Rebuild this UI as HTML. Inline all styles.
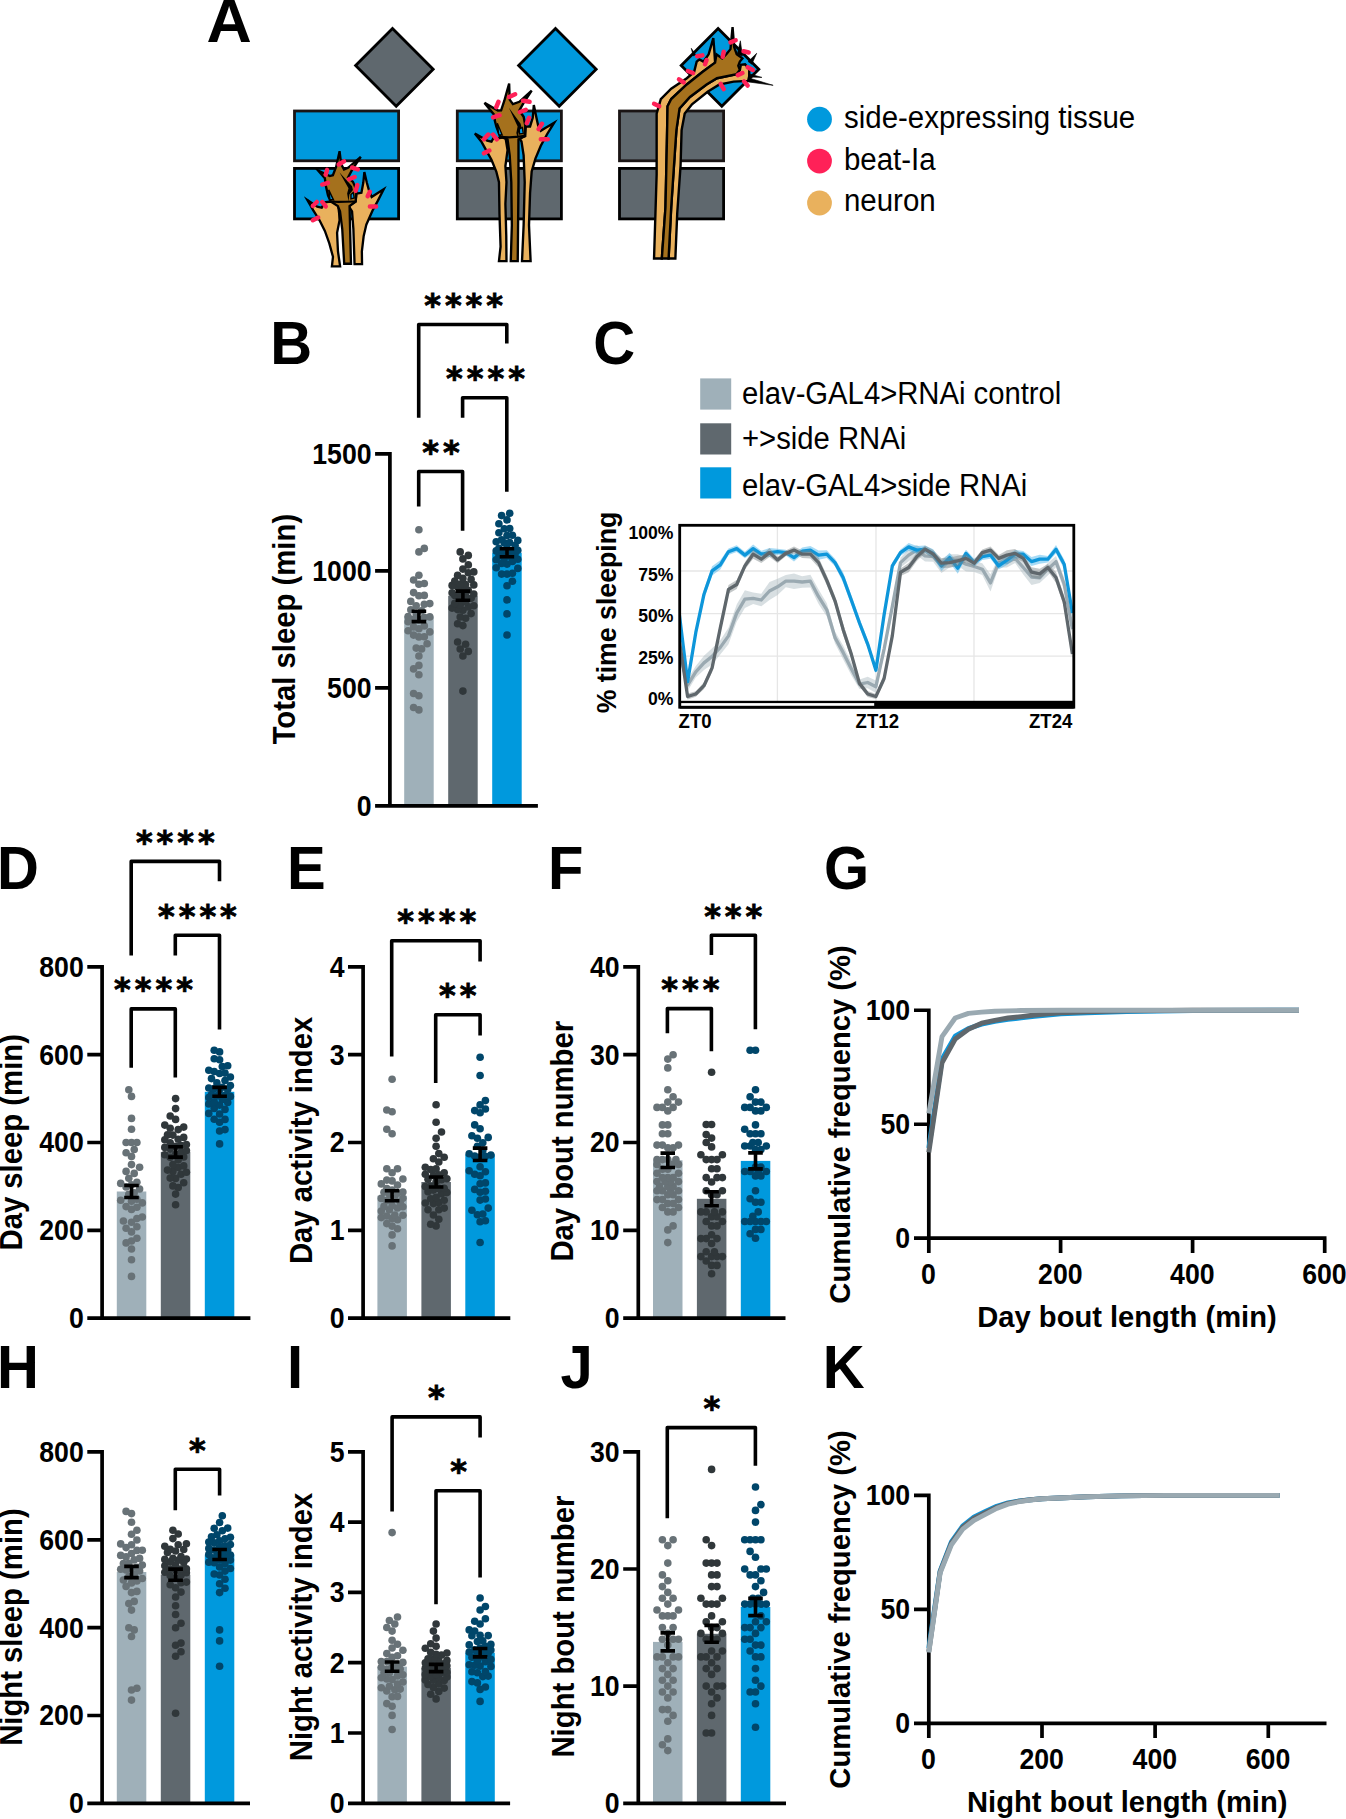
<!DOCTYPE html>
<html lang="en"><head><meta charset="utf-8"><title>Figure</title>
<style>html,body{margin:0;padding:0;background:#fff}svg{display:block}text{font-family:"Liberation Sans",sans-serif;fill:#000}.st{font-family:"DejaVu Sans","Liberation Sans",sans-serif;font-weight:bold;letter-spacing:3.96px;stroke:#000;stroke-width:0.8px}</style></head><body>
<svg width="1346" height="1819" viewBox="0 0 1346 1819">
<rect width="1346" height="1819" fill="#fff"/>
<text transform="translate(206.5,42.0) scale(1.08,1.04)" font-size="58" font-weight="bold" text-anchor="start" >A</text>
<text transform="translate(270.3,363.8) scale(1,1.04)" font-size="58" font-weight="bold" text-anchor="start" >B</text>
<text transform="translate(593.2,363.8) scale(1,1.04)" font-size="58" font-weight="bold" text-anchor="start" >C</text>
<text transform="translate(-3.0,889.1) scale(1,1.04)" font-size="58" font-weight="bold" text-anchor="start" >D</text>
<text transform="translate(287.1,889.1) scale(1,1.04)" font-size="58" font-weight="bold" text-anchor="start" >E</text>
<text transform="translate(548.0,889.1) scale(1,1.04)" font-size="58" font-weight="bold" text-anchor="start" >F</text>
<text transform="translate(824.1,889.1) scale(1,1.04)" font-size="58" font-weight="bold" text-anchor="start" >G</text>
<text transform="translate(-2.9,1387.9) scale(1,1.04)" font-size="58" font-weight="bold" text-anchor="start" >H</text>
<text transform="translate(287.0,1387.9) scale(1,1.04)" font-size="58" font-weight="bold" text-anchor="start" >I</text>
<text transform="translate(560.5,1387.9) scale(1,1.04)" font-size="58" font-weight="bold" text-anchor="start" >J</text>
<text transform="translate(822.7,1387.9) scale(1,1.04)" font-size="58" font-weight="bold" text-anchor="start" >K</text>
<rect x="294.5" y="111" width="104.1" height="49.8" fill="#0099DD" stroke="#1a1414" stroke-width="2.8"/>
<rect x="294.5" y="168.4" width="104.1" height="50.5" fill="#0099DD" stroke="#000" stroke-width="2.8"/>
<polygon points="355.6,65.6 392.5,28.6 433.2,69.2 396.2,106.2" fill="#5F686E" stroke="#000" stroke-width="2.8" stroke-linejoin="miter"/>
<rect x="457.3" y="111" width="104.1" height="49.8" fill="#0099DD" stroke="#1a1414" stroke-width="2.8"/>
<rect x="457.3" y="168.4" width="104.1" height="50.5" fill="#5F686E" stroke="#000" stroke-width="2.8"/>
<polygon points="518.6,65.6 555.5,28.6 596.2,69.2 559.2,106.2" fill="#0099DD" stroke="#000" stroke-width="2.8" stroke-linejoin="miter"/>
<rect x="619.5" y="111" width="104.1" height="49.8" fill="#5F686E" stroke="#1a1414" stroke-width="2.8"/>
<rect x="619.5" y="168.4" width="104.1" height="50.5" fill="#5F686E" stroke="#000" stroke-width="2.8"/>
<polygon points="681.2,65.6 718.1,28.6 758.8,69.2 721.8,106.2" fill="#0099DD" stroke="#000" stroke-width="2.8" stroke-linejoin="miter"/>
<g transform="translate(295,140) scale(0.08915)">
<polygon points="414,1418 426,1310 385,1160 335,1020 275,900 205,790 138,672 250,748 300,760 335,700 400,690 480,700 495,820 500,900 472,1040 482,1250 506,1418" fill="#E9B15D" stroke="#000" stroke-width="26" stroke-linejoin="miter" stroke-miterlimit="5"/>
<polygon points="668,1393 655,1000 640,800 600,740 680,690 690,600 745,592 766,480 778,360 806,480 828,560 860,640 920,600 995,553 930,680 870,790 800,950 770,1080 750,1250 752,1393" fill="#E9B15D" stroke="#000" stroke-width="26" stroke-linejoin="miter" stroke-miterlimit="5"/>
<polygon points="552,1388 530,1000 505,800 480,740 400,690 370,620 345,510 335,430 258,342 390,405 425,395 462,300 500,125 518,270 550,332 595,312 738,188 640,335 595,420 650,470 690,560 680,690 612,740 618,1000 628,1388" fill="#A5711D" stroke="#000" stroke-width="26" stroke-linejoin="miter" stroke-miterlimit="5"/>
<polygon points="500,365 640,520 650,560 610,610 600,690 585,600 600,540" fill="#000"/>
<polygon points="628,612 655,588 664,650 628,660" fill="#0099DD" stroke="#000" stroke-width="16"/>
<polygon points="378,560 432,672 392,668" fill="#0099DD" stroke="#000" stroke-width="16"/>
<path d="M400,690 C480,700 560,690 680,690" fill="none" stroke="#000" stroke-width="24"/>
<path d="M490,275L550,240M640,310L705,330M345,390L360,335M305,500L370,480M605,440L670,415M680,570L700,505M815,630L840,580M840,745L910,745M200,740L245,695M305,695L345,745M200,900L260,870" stroke="#FF2158" stroke-width="50" stroke-linecap="round" fill="none"/>
</g>
<g transform="translate(455,75) scale(0.10724)">
<polygon points="410,1735 425,1600 415,1300 410,1000 385,900 340,790 290,700 245,620 185,545 300,612 340,622 360,585 400,590 470,578 490,700 470,850 480,1000 470,1200 478,1500 480,1735" fill="#E9B15D" stroke="#000" stroke-width="22" stroke-linejoin="miter" stroke-miterlimit="5"/>
<polygon points="625,1735 640,1400 650,1000 640,750 620,620 600,590 655,570 660,480 700,480 725,400 735,280 760,400 775,470 800,520 850,490 925,445 860,550 800,660 750,780 715,900 700,1100 690,1400 705,1735" fill="#E9B15D" stroke="#000" stroke-width="22" stroke-linejoin="miter" stroke-miterlimit="5"/>
<polygon points="520,1735 530,1400 525,1000 510,750 490,600 420,575 385,480 370,420 365,370 275,260 400,332 430,330 460,240 485,150 505,80 510,230 540,272 600,250 715,145 640,260 600,330 640,390 655,470 650,570 592,600 592,1000 585,1735" fill="#A5711D" stroke="#000" stroke-width="22" stroke-linejoin="miter" stroke-miterlimit="5"/>
<polygon points="503,305 612,455 622,495 592,540 588,600 572,540 584,480" fill="#000"/>
<polygon points="600,505 628,490 636,545 602,550" fill="#0099DD" stroke="#000" stroke-width="12"/>
<polygon points="395,450 440,560 408,555" fill="#0099DD" stroke="#000" stroke-width="12"/>
<path d="M415,572 C480,588 560,582 652,568" fill="none" stroke="#000" stroke-width="20"/>
<path d="M505,205L560,180M635,240L695,250M385,300L405,250M355,395L415,375M605,345L660,325M670,450L690,400M780,505L810,455M800,598L865,598M270,600L310,555M355,555L390,600M270,730L320,705" stroke="#FF2158" stroke-width="42" stroke-linecap="round" fill="none"/>
</g>
<g transform="translate(640,20) scale(0.10401)">
<polygon points="1040,555 1280,628 1040,595" fill="#000" stroke="#000" stroke-width="6" stroke-linejoin="miter" stroke-miterlimit="5"/>
<polygon points="1060,520 1172,552 1060,548" fill="#000" stroke="#000" stroke-width="6" stroke-linejoin="miter" stroke-miterlimit="5"/>
<polygon points="1040,400 1122,320 1075,425" fill="#000" stroke="#000" stroke-width="6" stroke-linejoin="miter" stroke-miterlimit="5"/>
<polygon points="493,272 535,335 512,345" fill="#000" stroke="#000" stroke-width="6" stroke-linejoin="miter" stroke-miterlimit="5"/>
<polygon points="935,330 965,200 985,345" fill="#000" stroke="#000" stroke-width="6" stroke-linejoin="miter" stroke-miterlimit="5"/>
<polygon points="135,2293 160,1486 160,900 200,760 300,660 450,560 520,500 545,400 570,380 610,400 660,330 705,175 715,300 722,410 600,500 450,620 300,760 265,830 258,1200 245,1800 210,2293" fill="#E9B15D" stroke="#000" stroke-width="23" stroke-linejoin="miter" stroke-miterlimit="5"/>
<polygon points="275,2293 300,1800 340,1200 350,1058 380,850 480,740 640,620 740,560 930,520 960,480 970,430 1010,425 1050,470 1050,540 1040,585 900,592 760,622 650,690 500,810 430,900 400,1058 390,1400 358,1857 340,2293" fill="#E9B15D" stroke="#000" stroke-width="23" stroke-linejoin="miter" stroke-miterlimit="5"/>
<polygon points="210,2293 245,1800 258,1200 265,830 300,760 450,620 600,500 722,410 735,330 790,370 830,330 870,280 890,68 905,260 930,330 960,350 985,370 960,400 945,440 960,480 930,520 740,560 640,620 480,740 380,850 350,1058 340,1200 300,1800 275,2293" fill="#A5711D" stroke="#000" stroke-width="23" stroke-linejoin="miter" stroke-miterlimit="5"/>
<path d="M870,215L920,195M995,300L1045,312M795,355L805,305M550,348L600,340M625,425L640,385M460,490L510,510M375,570L420,600M1035,455L1085,480M940,530L985,510M775,615L805,665M1000,590L1035,630M135,805L185,830" stroke="#FF2158" stroke-width="43" stroke-linecap="round" fill="none"/>
</g>
<circle cx="819.5" cy="119.2" r="12.4" fill="#0099DD"/>
<text transform="translate(844.0,127.6) scale(1.0,1.04)" font-size="29.45" font-weight="normal" text-anchor="start" >side-expressing tissue</text>
<circle cx="819.5" cy="161.1" r="12.4" fill="#FF2158"/>
<text transform="translate(844.0,169.5) scale(1.0,1.04)" font-size="29.45" font-weight="normal" text-anchor="start" >beat-Ia</text>
<circle cx="819.5" cy="203" r="12.4" fill="#E9B15D"/>
<text transform="translate(844.0,211.4) scale(1.0,1.04)" font-size="29.45" font-weight="normal" text-anchor="start" >neuron</text>
<rect x="700.2" y="378.4" width="31" height="31.2" fill="#9FB0B9"/>
<text transform="translate(742.0,403.9) scale(1.0,1.04)" font-size="29.25" font-weight="normal" text-anchor="start" >elav-GAL4&gt;RNAi control</text>
<rect x="700.2" y="423.3" width="31" height="31.2" fill="#5F686E"/>
<text transform="translate(742.0,448.6) scale(1.0,1.04)" font-size="29.25" font-weight="normal" text-anchor="start" >+&gt;side RNAi</text>
<rect x="700.2" y="467.3" width="31" height="31.2" fill="#0099DD"/>
<text transform="translate(742.0,495.7) scale(1.0,1.04)" font-size="29.25" font-weight="normal" text-anchor="start" >elav-GAL4&gt;side RNAi</text>
<path d="M777.4,525.3V707.2M876.0,525.3V707.2M974.0,525.3V707.2M679.7,571.0H1073.8M679.7,613.6H1073.8M679.7,656.2H1073.8" stroke="#e6e6e6" stroke-width="1.3" fill="none"/>
<clipPath id="cc"><rect x="679.7" y="525.3" width="394.0999999999999" height="181.9000000000001"/></clipPath>
<g clip-path="url(#cc)" fill="none" stroke-linejoin="round">
<polygon points="679.4,643.4 687.6,678.9 695.8,666.1 704.0,655.8 712.1,648.2 720.3,640.3 728.5,627.7 736.7,604.6 744.9,590.3 753.1,592.6 761.3,593.7 769.5,581.9 777.6,578.8 785.8,575.1 794.0,573.4 802.2,576.2 810.4,574.7 818.6,589.5 826.8,603.2 835.0,631.6 843.1,645.5 851.3,662.2 859.5,679.5 867.7,676.8 875.9,680.5 884.1,643.6 892.3,599.7 900.5,557.7 908.7,548.9 916.8,545.0 925.0,550.4 933.2,551.7 941.4,558.8 949.6,554.2 957.8,554.3 966.0,557.1 974.2,561.1 982.3,563.3 990.5,574.2 998.7,557.3 1006.9,557.6 1015.1,553.9 1023.3,560.7 1031.5,569.2 1039.7,572.6 1047.8,562.9 1056.0,555.9 1064.2,577.7 1072.4,622.6 1072.4,635.7 1064.2,590.6 1056.0,567.2 1047.8,575.5 1039.7,583.1 1031.5,584.9 1023.3,574.4 1015.1,562.9 1006.9,567.5 998.7,567.8 990.5,591.5 982.3,575.1 974.2,572.0 966.0,571.4 957.8,565.8 949.6,567.6 941.4,573.0 933.2,561.7 925.0,561.4 916.8,555.2 908.7,561.2 900.5,567.4 892.3,613.2 884.1,654.5 875.9,692.9 867.7,688.2 859.5,688.9 851.3,675.2 843.1,659.3 835.0,643.6 826.8,616.4 818.6,603.9 810.4,587.6 802.2,587.8 794.0,589.0 785.8,587.3 777.6,594.9 769.5,600.1 761.3,606.3 753.1,604.1 744.9,608.0 736.7,621.7 728.5,644.2 720.3,654.5 712.1,664.6 704.0,669.9 695.8,677.6 687.6,691.1 679.4,658.1" fill="#A9B7BE" fill-opacity="0.45" stroke="none"/>
<path d="M679.4,650.7L687.6,685.0L695.8,671.9L704.0,662.9L712.1,656.4L720.3,647.4L728.5,635.9L736.7,613.1L744.9,599.2L753.1,598.3L761.3,600.0L769.5,591.0L777.6,586.8L785.8,581.2L794.0,581.2L802.2,582.0L810.4,581.2L818.6,596.7L826.8,609.8L835.0,637.6L843.1,652.4L851.3,668.7L859.5,684.2L867.7,682.5L875.9,686.7L884.1,649.1L892.3,606.5L900.5,562.6L908.7,555.1L916.8,550.1L925.0,555.9L933.2,556.7L941.4,565.9L949.6,560.9L957.8,560.1L966.0,564.2L974.2,566.5L982.3,569.2L990.5,582.9L998.7,562.6L1006.9,562.6L1015.1,558.4L1023.3,567.5L1031.5,577.0L1039.7,577.9L1047.8,569.2L1056.0,561.6L1064.2,584.2L1072.4,629.1" stroke="#9AA9B1" stroke-width="3.3"/>
<polygon points="679.4,610.2 687.6,678.2 695.8,628.0 704.0,589.3 712.1,566.2 720.3,560.3 728.5,548.4 736.7,545.2 744.9,551.8 753.1,544.4 761.3,550.8 769.5,548.0 777.6,548.8 785.8,549.7 794.0,553.7 802.2,547.6 810.4,545.9 818.6,550.4 826.8,550.3 835.0,558.8 843.1,572.3 851.3,594.9 859.5,618.3 867.7,639.5 875.9,667.1 884.1,608.9 892.3,562.5 900.5,549.4 908.7,543.1 916.8,546.1 925.0,545.4 933.2,549.3 941.4,560.9 949.6,552.7 957.8,562.8 966.0,549.8 974.2,558.7 982.3,553.5 990.5,551.3 998.7,562.3 1006.9,555.0 1015.1,549.9 1023.3,550.9 1031.5,557.0 1039.7,554.7 1047.8,556.0 1056.0,545.0 1064.2,559.4 1072.4,607.9 1072.4,618.4 1064.2,569.0 1056.0,553.5 1047.8,562.5 1039.7,563.7 1031.5,566.1 1023.3,557.6 1015.1,558.6 1006.9,565.1 998.7,569.5 990.5,558.8 982.3,560.0 974.2,566.5 966.0,557.0 957.8,573.7 949.6,562.5 941.4,570.9 933.2,557.5 925.0,553.1 916.8,554.0 908.7,550.7 900.5,555.8 892.3,569.2 884.1,620.7 875.9,673.3 867.7,648.6 859.5,627.6 851.3,605.1 843.1,582.8 835.0,566.3 826.8,558.1 818.6,559.7 810.4,554.2 802.2,554.8 794.0,561.4 785.8,555.4 777.6,554.7 769.5,557.1 761.3,557.7 753.1,552.8 744.9,558.3 736.7,552.0 728.5,555.0 720.3,569.5 712.1,575.5 704.0,599.0 695.8,636.9 687.6,685.2 679.4,619.4" fill="#3FB0E8" fill-opacity="0.45" stroke="none"/>
<path d="M679.4,614.8L687.6,681.7L695.8,632.4L704.0,594.2L712.1,570.9L720.3,564.9L728.5,551.7L736.7,548.6L744.9,555.1L753.1,548.6L761.3,554.2L769.5,552.6L777.6,551.7L785.8,552.6L794.0,557.6L802.2,551.2L810.4,550.1L818.6,555.1L826.8,554.2L835.0,562.6L843.1,577.5L851.3,600.0L859.5,623.0L867.7,644.1L875.9,670.2L884.1,614.8L892.3,565.9L900.5,552.6L908.7,546.9L916.8,550.1L925.0,549.2L933.2,553.4L941.4,565.9L949.6,557.6L957.8,568.2L966.0,553.4L974.2,562.6L982.3,556.7L990.5,555.1L998.7,565.9L1006.9,560.1L1015.1,554.2L1023.3,554.2L1031.5,561.6L1039.7,559.2L1047.8,559.2L1056.0,549.2L1064.2,564.2L1072.4,613.1" stroke="#0E96DA" stroke-width="3.3"/>
<polygon points="679.4,636.4 687.6,693.5 695.8,691.3 704.0,682.3 712.1,663.5 720.3,622.1 728.5,584.9 736.7,580.0 744.9,562.2 753.1,549.7 761.3,555.6 769.5,548.0 777.6,556.7 785.8,550.5 794.0,546.5 802.2,550.5 810.4,549.9 818.6,557.6 826.8,575.5 835.0,596.1 843.1,623.6 851.3,649.4 859.5,680.2 867.7,691.1 875.9,694.1 884.1,674.3 892.3,632.0 900.5,568.4 908.7,562.9 916.8,552.5 925.0,545.4 933.2,550.1 941.4,558.3 949.6,557.4 957.8,555.8 966.0,554.6 974.2,559.3 982.3,549.5 990.5,546.5 998.7,555.0 1006.9,550.3 1015.1,549.1 1023.3,554.9 1031.5,567.2 1039.7,568.8 1047.8,564.0 1056.0,572.1 1064.2,595.8 1072.4,649.4 1072.4,658.7 1064.2,607.5 1056.0,583.0 1047.8,571.1 1039.7,578.9 1031.5,577.2 1023.3,561.9 1015.1,557.7 1006.9,559.8 998.7,561.8 990.5,553.7 982.3,555.7 974.2,567.1 966.0,562.2 957.8,566.0 949.6,567.7 941.4,568.1 933.2,558.4 925.0,553.1 916.8,560.9 908.7,572.2 900.5,576.1 892.3,639.9 884.1,682.8 875.9,698.9 867.7,696.9 859.5,686.5 851.3,658.7 843.1,635.3 835.0,605.5 826.8,585.2 818.6,567.5 810.4,558.6 802.2,558.0 794.0,553.6 785.8,556.3 777.6,563.1 769.5,557.1 761.3,562.9 753.1,558.7 744.9,569.5 736.7,589.1 728.5,593.8 720.3,633.4 712.1,672.3 704.0,689.0 695.8,696.7 687.6,699.5 679.4,645.1" fill="#7A8286" fill-opacity="0.45" stroke="none"/>
<path d="M679.4,640.8L687.6,696.5L695.8,694.0L704.0,685.7L712.1,667.9L720.3,627.8L728.5,589.3L736.7,584.5L744.9,565.9L753.1,554.2L761.3,559.2L769.5,552.6L777.6,559.9L785.8,553.4L794.0,550.1L802.2,554.2L810.4,554.2L818.6,562.6L826.8,580.4L835.0,600.8L843.1,629.4L851.3,654.1L859.5,683.4L867.7,694.0L875.9,696.5L884.1,678.5L892.3,635.9L900.5,572.2L908.7,567.5L916.8,556.7L925.0,549.2L933.2,554.2L941.4,563.2L949.6,562.6L957.8,560.9L966.0,558.4L974.2,563.2L982.3,552.6L990.5,550.1L998.7,558.4L1006.9,555.1L1015.1,553.4L1023.3,558.4L1031.5,572.2L1039.7,573.9L1047.8,567.5L1056.0,577.5L1064.2,601.7L1072.4,654.1" stroke="#5F676C" stroke-width="3.3"/>
</g>
<rect x="679.7" y="700.8" width="394.1" height="7.8" fill="#000"/>
<rect x="681.1" y="703.1" width="193.1" height="3.1" fill="#fff"/>
<rect x="679.7" y="525.3" width="394.1" height="181.9" fill="none" stroke="#000" stroke-width="2.8"/>
<text transform="translate(673.5,705.3) scale(1.0,1.04)" font-size="17.6" font-weight="bold" text-anchor="end" >0%</text>
<text transform="translate(673.5,663.7) scale(1.0,1.04)" font-size="17.6" font-weight="bold" text-anchor="end" >25%</text>
<text transform="translate(673.5,622.1) scale(1.0,1.04)" font-size="17.6" font-weight="bold" text-anchor="end" >50%</text>
<text transform="translate(673.5,580.5) scale(1.0,1.04)" font-size="17.6" font-weight="bold" text-anchor="end" >75%</text>
<text transform="translate(673.5,538.9) scale(1.0,1.04)" font-size="17.6" font-weight="bold" text-anchor="end" >100%</text>
<text transform="translate(678.6,727.8) scale(1.0,1.04)" font-size="18.6" font-weight="bold" text-anchor="start" >ZT0</text>
<text transform="translate(877.3,727.8) scale(1.0,1.04)" font-size="18.6" font-weight="bold" text-anchor="middle" >ZT12</text>
<text transform="translate(1072.4,727.8) scale(1.0,1.04)" font-size="18.6" font-weight="bold" text-anchor="end" >ZT24</text>
<text transform="translate(615.6,612.5) rotate(-90) scale(1,1.04)" font-size="26.7" font-weight="bold" text-anchor="middle">% time sleeping</text>
<rect x="404.2" y="616.4" width="29.5" height="189.4" fill="#9FB0B9"/>
<rect x="448.2" y="595.7" width="29.5" height="210.1" fill="#5F686E"/>
<rect x="492.2" y="552.7" width="29.5" height="253.1" fill="#0099DD"/>
<g fill="#687277"><circle cx="418.9" cy="709.9" r="3.8"/><circle cx="413.6" cy="707.5" r="3.8"/><circle cx="418.9" cy="695.8" r="3.8"/><circle cx="413.6" cy="693.5" r="3.8"/><circle cx="418.9" cy="674.8" r="3.8"/><circle cx="413.6" cy="668.9" r="3.8"/><circle cx="418.9" cy="665.4" r="3.8"/><circle cx="418.9" cy="656.0" r="3.8"/><circle cx="421.6" cy="648.9" r="3.8"/><circle cx="416.2" cy="648.1" r="3.8"/><circle cx="427.1" cy="643.8" r="3.8"/><circle cx="418.9" cy="636.9" r="3.8"/><circle cx="424.3" cy="636.8" r="3.8"/><circle cx="413.6" cy="635.1" r="3.8"/><circle cx="429.8" cy="631.9" r="3.8"/><circle cx="408.1" cy="630.8" r="3.8"/><circle cx="418.9" cy="628.8" r="3.8"/><circle cx="413.6" cy="626.9" r="3.8"/><circle cx="424.3" cy="625.9" r="3.8"/><circle cx="408.1" cy="621.7" r="3.8"/><circle cx="418.9" cy="619.5" r="3.8"/><circle cx="413.6" cy="619.3" r="3.8"/><circle cx="424.3" cy="617.4" r="3.8"/><circle cx="429.8" cy="616.9" r="3.8"/><circle cx="408.1" cy="616.5" r="3.8"/><circle cx="416.2" cy="614.0" r="3.8"/><circle cx="421.6" cy="610.7" r="3.8"/><circle cx="410.8" cy="609.7" r="3.8"/><circle cx="416.2" cy="605.7" r="3.8"/><circle cx="424.3" cy="604.3" r="3.8"/><circle cx="429.8" cy="603.6" r="3.8"/><circle cx="410.8" cy="601.4" r="3.8"/><circle cx="418.9" cy="595.7" r="3.8"/><circle cx="424.3" cy="595.4" r="3.8"/><circle cx="413.6" cy="592.6" r="3.8"/><circle cx="418.9" cy="584.2" r="3.8"/><circle cx="424.3" cy="583.5" r="3.8"/><circle cx="413.6" cy="580.0" r="3.8"/><circle cx="418.9" cy="575.3" r="3.8"/><circle cx="418.9" cy="551.9" r="3.8"/><circle cx="424.3" cy="548.4" r="3.8"/><circle cx="418.9" cy="529.7" r="3.8"/></g>
<g fill="#30373A"><circle cx="462.9" cy="691.1" r="3.8"/><circle cx="462.9" cy="656.0" r="3.8"/><circle cx="468.3" cy="651.4" r="3.8"/><circle cx="460.2" cy="649.0" r="3.8"/><circle cx="465.6" cy="644.3" r="3.8"/><circle cx="457.6" cy="642.0" r="3.8"/><circle cx="462.9" cy="625.6" r="3.8"/><circle cx="457.6" cy="623.8" r="3.8"/><circle cx="465.6" cy="618.3" r="3.8"/><circle cx="460.2" cy="617.0" r="3.8"/><circle cx="471.1" cy="613.6" r="3.8"/><circle cx="462.9" cy="610.2" r="3.8"/><circle cx="457.6" cy="609.6" r="3.8"/><circle cx="452.1" cy="608.1" r="3.8"/><circle cx="468.3" cy="606.9" r="3.8"/><circle cx="473.8" cy="605.8" r="3.8"/><circle cx="460.2" cy="604.9" r="3.8"/><circle cx="454.8" cy="603.4" r="3.8"/><circle cx="465.6" cy="601.8" r="3.8"/><circle cx="471.1" cy="598.3" r="3.8"/><circle cx="460.2" cy="598.0" r="3.8"/><circle cx="454.8" cy="595.5" r="3.8"/><circle cx="465.6" cy="594.8" r="3.8"/><circle cx="473.8" cy="594.0" r="3.8"/><circle cx="460.2" cy="593.0" r="3.8"/><circle cx="452.1" cy="592.8" r="3.8"/><circle cx="468.3" cy="590.2" r="3.8"/><circle cx="462.9" cy="589.9" r="3.8"/><circle cx="457.6" cy="587.0" r="3.8"/><circle cx="452.1" cy="585.4" r="3.8"/><circle cx="473.8" cy="584.9" r="3.8"/><circle cx="465.6" cy="584.6" r="3.8"/><circle cx="460.2" cy="584.4" r="3.8"/><circle cx="454.8" cy="581.1" r="3.8"/><circle cx="471.1" cy="579.4" r="3.8"/><circle cx="462.9" cy="578.4" r="3.8"/><circle cx="457.6" cy="575.4" r="3.8"/><circle cx="468.3" cy="572.8" r="3.8"/><circle cx="473.8" cy="571.9" r="3.8"/><circle cx="462.9" cy="569.1" r="3.8"/><circle cx="468.3" cy="564.9" r="3.8"/><circle cx="462.9" cy="558.9" r="3.8"/><circle cx="468.3" cy="555.4" r="3.8"/><circle cx="460.2" cy="551.9" r="3.8"/></g>
<g fill="#00466A"><circle cx="507.0" cy="635.0" r="3.8"/><circle cx="507.0" cy="613.9" r="3.8"/><circle cx="507.0" cy="599.9" r="3.8"/><circle cx="507.0" cy="585.8" r="3.8"/><circle cx="512.4" cy="581.2" r="3.8"/><circle cx="507.0" cy="574.1" r="3.8"/><circle cx="501.6" cy="574.1" r="3.8"/><circle cx="512.4" cy="573.2" r="3.8"/><circle cx="517.8" cy="568.4" r="3.8"/><circle cx="496.2" cy="567.8" r="3.8"/><circle cx="507.0" cy="564.1" r="3.8"/><circle cx="501.6" cy="563.5" r="3.8"/><circle cx="512.4" cy="561.4" r="3.8"/><circle cx="496.2" cy="559.7" r="3.8"/><circle cx="517.8" cy="559.3" r="3.8"/><circle cx="504.3" cy="558.1" r="3.8"/><circle cx="509.7" cy="556.3" r="3.8"/><circle cx="498.9" cy="556.0" r="3.8"/><circle cx="515.1" cy="554.1" r="3.8"/><circle cx="507.0" cy="554.1" r="3.8"/><circle cx="501.6" cy="551.4" r="3.8"/><circle cx="496.2" cy="550.9" r="3.8"/><circle cx="512.4" cy="550.7" r="3.8"/><circle cx="517.8" cy="550.3" r="3.8"/><circle cx="507.0" cy="548.4" r="3.8"/><circle cx="498.9" cy="548.4" r="3.8"/><circle cx="515.1" cy="545.6" r="3.8"/><circle cx="504.3" cy="542.9" r="3.8"/><circle cx="509.7" cy="542.6" r="3.8"/><circle cx="496.2" cy="541.7" r="3.8"/><circle cx="517.8" cy="540.4" r="3.8"/><circle cx="501.6" cy="539.8" r="3.8"/><circle cx="507.0" cy="535.5" r="3.8"/><circle cx="512.4" cy="535.3" r="3.8"/><circle cx="498.9" cy="532.8" r="3.8"/><circle cx="504.3" cy="528.8" r="3.8"/><circle cx="509.7" cy="528.5" r="3.8"/><circle cx="498.9" cy="523.8" r="3.8"/><circle cx="507.0" cy="519.9" r="3.8"/><circle cx="501.6" cy="515.6" r="3.8"/><circle cx="509.7" cy="513.3" r="3.8"/></g>
<path d="M411.6,611.2H426.2M411.6,621.6H426.2M418.9,611.2V621.6" stroke="#000" stroke-width="3.6" fill="none"/>
<path d="M455.6,591.1H470.2M455.6,600.3H470.2M462.9,591.1V600.3" stroke="#000" stroke-width="3.6" fill="none"/>
<path d="M499.7,548.7H514.2M499.7,556.7H514.2M507.0,548.7V556.7" stroke="#000" stroke-width="3.6" fill="none"/>
<path d="M389.9,451.9V807.6M375.1,805.8H537.9M375.1,687.9H389.9M375.1,570.9H389.9M375.1,453.8H389.9" stroke="#000" stroke-width="3.7" fill="none"/>
<text transform="translate(371.6,815.7) scale(1.0,1.075)" font-size="26.7" font-weight="bold" text-anchor="end" >0</text>
<text transform="translate(371.6,697.8) scale(1.0,1.075)" font-size="26.7" font-weight="bold" text-anchor="end" >500</text>
<text transform="translate(371.6,580.8) scale(1.0,1.075)" font-size="26.7" font-weight="bold" text-anchor="end" >1000</text>
<text transform="translate(371.6,463.7) scale(1.0,1.075)" font-size="26.7" font-weight="bold" text-anchor="end" >1500</text>
<text transform="translate(294.9,629.1) rotate(-90) scale(1,1.04)" font-size="29.3" font-weight="bold" text-anchor="middle">Total sleep (min)</text>
<path d="M418.7,417.7 V324.5 H506.8 V343.6" fill="none" stroke="#000" stroke-width="3.6" stroke-linejoin="round"/>
<text x="465.6" y="316.0" font-size="32" class="st" text-anchor="middle">****</text>
<path d="M462.6,417.7 V397.8 H506.8 V491.7" fill="none" stroke="#000" stroke-width="3.6" stroke-linejoin="round"/>
<text x="487.5" y="389.3" font-size="32" class="st" text-anchor="middle">****</text>
<path d="M418.7,506.6 V471.5 H462.6 V530.8" fill="none" stroke="#000" stroke-width="3.6" stroke-linejoin="round"/>
<text x="443.0" y="463.0" font-size="32" class="st" text-anchor="middle">**</text>
<rect x="116.8" y="1191.5" width="29.5" height="126.6" fill="#9FB0B9"/>
<rect x="160.8" y="1151.9" width="29.5" height="166.2" fill="#5F686E"/>
<rect x="204.8" y="1091.8" width="29.5" height="226.3" fill="#0099DD"/>
<g fill="#687277"><circle cx="131.5" cy="1276.4" r="3.8"/><circle cx="131.5" cy="1259.7" r="3.8"/><circle cx="131.5" cy="1249.0" r="3.8"/><circle cx="126.1" cy="1242.9" r="3.8"/><circle cx="131.5" cy="1241.0" r="3.8"/><circle cx="136.9" cy="1238.2" r="3.8"/><circle cx="131.5" cy="1231.9" r="3.8"/><circle cx="126.1" cy="1228.2" r="3.8"/><circle cx="136.9" cy="1226.7" r="3.8"/><circle cx="131.5" cy="1222.2" r="3.8"/><circle cx="123.4" cy="1221.0" r="3.8"/><circle cx="136.9" cy="1218.6" r="3.8"/><circle cx="142.3" cy="1217.0" r="3.8"/><circle cx="131.5" cy="1209.4" r="3.8"/><circle cx="136.9" cy="1207.2" r="3.8"/><circle cx="126.1" cy="1206.6" r="3.8"/><circle cx="142.3" cy="1202.9" r="3.8"/><circle cx="131.5" cy="1201.2" r="3.8"/><circle cx="120.7" cy="1200.3" r="3.8"/><circle cx="136.9" cy="1199.2" r="3.8"/><circle cx="128.8" cy="1194.2" r="3.8"/><circle cx="134.2" cy="1192.8" r="3.8"/><circle cx="139.6" cy="1189.0" r="3.8"/><circle cx="126.1" cy="1186.9" r="3.8"/><circle cx="131.5" cy="1184.7" r="3.8"/><circle cx="120.7" cy="1183.4" r="3.8"/><circle cx="136.9" cy="1182.3" r="3.8"/><circle cx="128.8" cy="1178.2" r="3.8"/><circle cx="134.2" cy="1173.4" r="3.8"/><circle cx="126.1" cy="1171.4" r="3.8"/><circle cx="139.6" cy="1167.2" r="3.8"/><circle cx="131.5" cy="1164.6" r="3.8"/><circle cx="131.5" cy="1156.4" r="3.8"/><circle cx="126.1" cy="1152.7" r="3.8"/><circle cx="134.2" cy="1149.5" r="3.8"/><circle cx="131.5" cy="1142.5" r="3.8"/><circle cx="136.9" cy="1142.5" r="3.8"/><circle cx="126.1" cy="1142.5" r="3.8"/><circle cx="131.5" cy="1129.3" r="3.8"/><circle cx="131.5" cy="1118.4" r="3.8"/><circle cx="131.5" cy="1096.4" r="3.8"/><circle cx="128.8" cy="1089.8" r="3.8"/></g>
<g fill="#30373A"><circle cx="175.6" cy="1204.8" r="3.8"/><circle cx="175.6" cy="1194.1" r="3.8"/><circle cx="178.2" cy="1187.5" r="3.8"/><circle cx="172.9" cy="1185.9" r="3.8"/><circle cx="183.7" cy="1182.8" r="3.8"/><circle cx="175.6" cy="1178.4" r="3.8"/><circle cx="170.2" cy="1178.1" r="3.8"/><circle cx="181.0" cy="1174.2" r="3.8"/><circle cx="186.4" cy="1172.3" r="3.8"/><circle cx="172.9" cy="1171.5" r="3.8"/><circle cx="167.5" cy="1170.1" r="3.8"/><circle cx="178.2" cy="1167.4" r="3.8"/><circle cx="183.7" cy="1165.9" r="3.8"/><circle cx="172.9" cy="1164.6" r="3.8"/><circle cx="178.2" cy="1159.7" r="3.8"/><circle cx="170.2" cy="1157.3" r="3.8"/><circle cx="183.7" cy="1156.9" r="3.8"/><circle cx="164.8" cy="1154.7" r="3.8"/><circle cx="175.6" cy="1154.2" r="3.8"/><circle cx="181.0" cy="1152.1" r="3.8"/><circle cx="186.4" cy="1150.5" r="3.8"/><circle cx="170.2" cy="1149.1" r="3.8"/><circle cx="164.8" cy="1147.4" r="3.8"/><circle cx="175.6" cy="1146.4" r="3.8"/><circle cx="181.0" cy="1145.5" r="3.8"/><circle cx="186.4" cy="1144.6" r="3.8"/><circle cx="170.2" cy="1142.9" r="3.8"/><circle cx="164.8" cy="1139.8" r="3.8"/><circle cx="178.2" cy="1139.2" r="3.8"/><circle cx="183.7" cy="1137.4" r="3.8"/><circle cx="172.9" cy="1135.1" r="3.8"/><circle cx="167.5" cy="1134.9" r="3.8"/><circle cx="178.2" cy="1129.6" r="3.8"/><circle cx="170.2" cy="1128.2" r="3.8"/><circle cx="183.7" cy="1127.1" r="3.8"/><circle cx="164.8" cy="1125.1" r="3.8"/><circle cx="175.6" cy="1119.4" r="3.8"/><circle cx="170.2" cy="1116.0" r="3.8"/><circle cx="175.6" cy="1108.6" r="3.8"/><circle cx="175.6" cy="1098.6" r="3.8"/></g>
<g fill="#00466A"><circle cx="219.6" cy="1143.9" r="3.8"/><circle cx="219.6" cy="1131.0" r="3.8"/><circle cx="225.0" cy="1129.6" r="3.8"/><circle cx="219.6" cy="1122.2" r="3.8"/><circle cx="225.0" cy="1119.4" r="3.8"/><circle cx="214.2" cy="1119.3" r="3.8"/><circle cx="219.6" cy="1114.0" r="3.8"/><circle cx="208.8" cy="1113.4" r="3.8"/><circle cx="225.0" cy="1109.4" r="3.8"/><circle cx="214.2" cy="1108.4" r="3.8"/><circle cx="219.6" cy="1105.1" r="3.8"/><circle cx="208.8" cy="1104.0" r="3.8"/><circle cx="227.7" cy="1102.5" r="3.8"/><circle cx="214.2" cy="1101.8" r="3.8"/><circle cx="222.3" cy="1099.4" r="3.8"/><circle cx="208.8" cy="1097.6" r="3.8"/><circle cx="230.4" cy="1096.4" r="3.8"/><circle cx="216.9" cy="1095.9" r="3.8"/><circle cx="225.0" cy="1095.4" r="3.8"/><circle cx="211.5" cy="1094.5" r="3.8"/><circle cx="219.6" cy="1089.6" r="3.8"/><circle cx="227.7" cy="1089.4" r="3.8"/><circle cx="214.2" cy="1088.6" r="3.8"/><circle cx="208.8" cy="1088.0" r="3.8"/><circle cx="222.3" cy="1087.2" r="3.8"/><circle cx="230.4" cy="1085.6" r="3.8"/><circle cx="216.9" cy="1082.9" r="3.8"/><circle cx="225.0" cy="1080.5" r="3.8"/><circle cx="211.5" cy="1078.6" r="3.8"/><circle cx="230.4" cy="1077.0" r="3.8"/><circle cx="219.6" cy="1073.5" r="3.8"/><circle cx="225.0" cy="1073.1" r="3.8"/><circle cx="214.2" cy="1071.6" r="3.8"/><circle cx="208.8" cy="1070.3" r="3.8"/><circle cx="222.3" cy="1066.5" r="3.8"/><circle cx="227.7" cy="1065.7" r="3.8"/><circle cx="219.6" cy="1059.7" r="3.8"/><circle cx="214.2" cy="1058.8" r="3.8"/><circle cx="219.6" cy="1051.9" r="3.8"/><circle cx="214.2" cy="1050.3" r="3.8"/></g>
<path d="M124.2,1185.5H138.8M124.2,1197.5H138.8M131.5,1185.5V1197.5" stroke="#000" stroke-width="3.6" fill="none"/>
<path d="M168.2,1146.7H182.9M168.2,1157.1H182.9M175.6,1146.7V1157.1" stroke="#000" stroke-width="3.6" fill="none"/>
<path d="M212.3,1087.4H226.9M212.3,1096.2H226.9M219.6,1087.4V1096.2" stroke="#000" stroke-width="3.6" fill="none"/>
<path d="M102.1,965.0V1319.9M87.3,1318.1H250.4M87.3,1230.3H102.1M87.3,1142.5H102.1M87.3,1054.7H102.1M87.3,966.9H102.1" stroke="#000" stroke-width="3.7" fill="none"/>
<text transform="translate(83.8,1328.0) scale(1.0,1.075)" font-size="26.7" font-weight="bold" text-anchor="end" >0</text>
<text transform="translate(83.8,1240.2) scale(1.0,1.075)" font-size="26.7" font-weight="bold" text-anchor="end" >200</text>
<text transform="translate(83.8,1152.4) scale(1.0,1.075)" font-size="26.7" font-weight="bold" text-anchor="end" >400</text>
<text transform="translate(83.8,1064.6) scale(1.0,1.075)" font-size="26.7" font-weight="bold" text-anchor="end" >600</text>
<text transform="translate(83.8,976.8) scale(1.0,1.075)" font-size="26.7" font-weight="bold" text-anchor="end" >800</text>
<text transform="translate(21.7,1142.3) rotate(-90) scale(1,1.04)" font-size="29.3" font-weight="bold" text-anchor="middle">Day sleep (min)</text>
<path d="M131.2,955.4 V861.4 H219.5 V881.2" fill="none" stroke="#000" stroke-width="3.6" stroke-linejoin="round"/>
<text x="177.3" y="852.9" font-size="32" class="st" text-anchor="middle">****</text>
<path d="M175.3,955.4 V935.3 H219.5 V1029.6" fill="none" stroke="#000" stroke-width="3.6" stroke-linejoin="round"/>
<text x="199.4" y="926.8" font-size="32" class="st" text-anchor="middle">****</text>
<path d="M131.2,1067.7 V1008.9 H175.3 V1077.4" fill="none" stroke="#000" stroke-width="3.6" stroke-linejoin="round"/>
<text x="155.5" y="1000.4" font-size="32" class="st" text-anchor="middle">****</text>
<rect x="377.4" y="1195.7" width="29.5" height="122.4" fill="#9FB0B9"/>
<rect x="421.4" y="1182.0" width="29.5" height="136.1" fill="#5F686E"/>
<rect x="465.3" y="1154.3" width="29.5" height="163.8" fill="#0099DD"/>
<g fill="#687277"><circle cx="392.1" cy="1245.9" r="3.8"/><circle cx="392.1" cy="1234.9" r="3.8"/><circle cx="397.5" cy="1228.7" r="3.8"/><circle cx="392.1" cy="1226.1" r="3.8"/><circle cx="386.8" cy="1223.6" r="3.8"/><circle cx="397.5" cy="1219.7" r="3.8"/><circle cx="392.1" cy="1218.5" r="3.8"/><circle cx="381.3" cy="1217.6" r="3.8"/><circle cx="386.8" cy="1216.0" r="3.8"/><circle cx="402.9" cy="1215.2" r="3.8"/><circle cx="394.8" cy="1215.1" r="3.8"/><circle cx="381.3" cy="1211.1" r="3.8"/><circle cx="389.4" cy="1209.7" r="3.8"/><circle cx="397.5" cy="1208.0" r="3.8"/><circle cx="402.9" cy="1206.8" r="3.8"/><circle cx="384.0" cy="1206.4" r="3.8"/><circle cx="392.1" cy="1205.6" r="3.8"/><circle cx="400.2" cy="1202.3" r="3.8"/><circle cx="386.8" cy="1200.6" r="3.8"/><circle cx="394.8" cy="1198.5" r="3.8"/><circle cx="381.3" cy="1198.4" r="3.8"/><circle cx="402.9" cy="1198.2" r="3.8"/><circle cx="389.4" cy="1194.3" r="3.8"/><circle cx="397.5" cy="1193.2" r="3.8"/><circle cx="384.0" cy="1192.2" r="3.8"/><circle cx="402.9" cy="1192.1" r="3.8"/><circle cx="392.1" cy="1190.0" r="3.8"/><circle cx="386.8" cy="1188.6" r="3.8"/><circle cx="397.5" cy="1185.1" r="3.8"/><circle cx="381.3" cy="1183.9" r="3.8"/><circle cx="392.1" cy="1180.9" r="3.8"/><circle cx="386.8" cy="1180.1" r="3.8"/><circle cx="402.9" cy="1179.0" r="3.8"/><circle cx="392.1" cy="1172.7" r="3.8"/><circle cx="397.5" cy="1168.8" r="3.8"/><circle cx="386.8" cy="1168.8" r="3.8"/><circle cx="392.1" cy="1133.7" r="3.8"/><circle cx="386.8" cy="1129.3" r="3.8"/><circle cx="392.1" cy="1111.8" r="3.8"/><circle cx="386.8" cy="1110.0" r="3.8"/><circle cx="392.1" cy="1079.3" r="3.8"/></g>
<g fill="#30373A"><circle cx="436.1" cy="1225.9" r="3.8"/><circle cx="430.7" cy="1224.3" r="3.8"/><circle cx="438.8" cy="1219.2" r="3.8"/><circle cx="433.4" cy="1215.0" r="3.8"/><circle cx="438.8" cy="1209.8" r="3.8"/><circle cx="428.0" cy="1209.7" r="3.8"/><circle cx="444.2" cy="1208.1" r="3.8"/><circle cx="433.4" cy="1203.6" r="3.8"/><circle cx="425.3" cy="1203.0" r="3.8"/><circle cx="438.8" cy="1202.5" r="3.8"/><circle cx="444.2" cy="1200.3" r="3.8"/><circle cx="430.7" cy="1198.7" r="3.8"/><circle cx="436.1" cy="1197.4" r="3.8"/><circle cx="441.5" cy="1193.7" r="3.8"/><circle cx="446.9" cy="1192.6" r="3.8"/><circle cx="428.0" cy="1191.8" r="3.8"/><circle cx="433.4" cy="1190.1" r="3.8"/><circle cx="438.8" cy="1188.4" r="3.8"/><circle cx="444.2" cy="1188.3" r="3.8"/><circle cx="425.3" cy="1186.6" r="3.8"/><circle cx="430.7" cy="1186.4" r="3.8"/><circle cx="436.1" cy="1181.5" r="3.8"/><circle cx="441.5" cy="1179.7" r="3.8"/><circle cx="428.0" cy="1179.3" r="3.8"/><circle cx="446.9" cy="1178.8" r="3.8"/><circle cx="433.4" cy="1175.4" r="3.8"/><circle cx="438.8" cy="1174.7" r="3.8"/><circle cx="425.3" cy="1174.3" r="3.8"/><circle cx="444.2" cy="1172.7" r="3.8"/><circle cx="430.7" cy="1169.6" r="3.8"/><circle cx="436.1" cy="1168.7" r="3.8"/><circle cx="425.3" cy="1167.3" r="3.8"/><circle cx="438.8" cy="1162.0" r="3.8"/><circle cx="433.4" cy="1158.8" r="3.8"/><circle cx="444.2" cy="1157.2" r="3.8"/><circle cx="438.8" cy="1153.6" r="3.8"/><circle cx="436.1" cy="1146.3" r="3.8"/><circle cx="436.1" cy="1138.3" r="3.8"/><circle cx="441.5" cy="1132.0" r="3.8"/><circle cx="436.1" cy="1122.3" r="3.8"/><circle cx="436.1" cy="1104.7" r="3.8"/></g>
<g fill="#00466A"><circle cx="480.1" cy="1242.5" r="3.8"/><circle cx="480.1" cy="1221.8" r="3.8"/><circle cx="485.4" cy="1220.7" r="3.8"/><circle cx="477.4" cy="1214.7" r="3.8"/><circle cx="482.8" cy="1214.0" r="3.8"/><circle cx="471.9" cy="1210.3" r="3.8"/><circle cx="488.2" cy="1208.1" r="3.8"/><circle cx="480.1" cy="1200.1" r="3.8"/><circle cx="485.4" cy="1199.0" r="3.8"/><circle cx="480.1" cy="1192.2" r="3.8"/><circle cx="485.4" cy="1191.3" r="3.8"/><circle cx="474.7" cy="1189.4" r="3.8"/><circle cx="480.1" cy="1183.7" r="3.8"/><circle cx="485.4" cy="1182.9" r="3.8"/><circle cx="480.1" cy="1175.7" r="3.8"/><circle cx="474.7" cy="1174.2" r="3.8"/><circle cx="485.4" cy="1171.7" r="3.8"/><circle cx="469.2" cy="1170.8" r="3.8"/><circle cx="480.1" cy="1166.7" r="3.8"/><circle cx="480.1" cy="1157.0" r="3.8"/><circle cx="485.4" cy="1156.2" r="3.8"/><circle cx="474.7" cy="1156.0" r="3.8"/><circle cx="490.9" cy="1155.1" r="3.8"/><circle cx="469.2" cy="1153.7" r="3.8"/><circle cx="482.8" cy="1150.3" r="3.8"/><circle cx="477.4" cy="1146.3" r="3.8"/><circle cx="482.8" cy="1142.8" r="3.8"/><circle cx="477.4" cy="1138.2" r="3.8"/><circle cx="488.2" cy="1137.4" r="3.8"/><circle cx="471.9" cy="1135.8" r="3.8"/><circle cx="480.1" cy="1128.7" r="3.8"/><circle cx="474.7" cy="1124.9" r="3.8"/><circle cx="480.1" cy="1112.8" r="3.8"/><circle cx="474.7" cy="1110.6" r="3.8"/><circle cx="485.4" cy="1109.0" r="3.8"/><circle cx="480.1" cy="1104.9" r="3.8"/><circle cx="485.4" cy="1100.6" r="3.8"/><circle cx="480.1" cy="1075.5" r="3.8"/><circle cx="480.1" cy="1057.2" r="3.8"/></g>
<path d="M384.8,1190.7H399.4M384.8,1200.7H399.4M392.1,1190.7V1200.7" stroke="#000" stroke-width="3.6" fill="none"/>
<path d="M428.8,1177.0H443.4M428.8,1187.0H443.4M436.1,1177.0V1187.0" stroke="#000" stroke-width="3.6" fill="none"/>
<path d="M472.8,1148.1H487.4M472.8,1160.5H487.4M480.1,1148.1V1160.5" stroke="#000" stroke-width="3.6" fill="none"/>
<path d="M363.1,965.0V1319.9M348.0,1318.1H510.3M348.0,1230.3H363.1M348.0,1142.5H363.1M348.0,1054.7H363.1M348.0,966.9H363.1" stroke="#000" stroke-width="3.7" fill="none"/>
<text transform="translate(344.5,1328.0) scale(1.0,1.075)" font-size="26.7" font-weight="bold" text-anchor="end" >0</text>
<text transform="translate(344.5,1240.2) scale(1.0,1.075)" font-size="26.7" font-weight="bold" text-anchor="end" >1</text>
<text transform="translate(344.5,1152.4) scale(1.0,1.075)" font-size="26.7" font-weight="bold" text-anchor="end" >2</text>
<text transform="translate(344.5,1064.6) scale(1.0,1.075)" font-size="26.7" font-weight="bold" text-anchor="end" >3</text>
<text transform="translate(344.5,976.8) scale(1.0,1.075)" font-size="26.7" font-weight="bold" text-anchor="end" >4</text>
<text transform="translate(311.8,1140.4) rotate(-90) scale(1,1.04)" font-size="29.3" font-weight="bold" text-anchor="middle">Day activity index</text>
<path d="M391.7,1056.6 V940.8 H480.1 V961.6" fill="none" stroke="#000" stroke-width="3.6" stroke-linejoin="round"/>
<text x="438.7" y="932.3" font-size="32" class="st" text-anchor="middle">****</text>
<path d="M435.7,1083.0 V1014.7 H480.1 V1035.5" fill="none" stroke="#000" stroke-width="3.6" stroke-linejoin="round"/>
<text x="459.8" y="1006.2" font-size="32" class="st" text-anchor="middle">**</text>
<rect x="653.0" y="1160.3" width="29.5" height="157.8" fill="#9FB0B9"/>
<rect x="696.9" y="1198.8" width="29.5" height="119.3" fill="#5F686E"/>
<rect x="740.8" y="1160.9" width="29.5" height="157.2" fill="#0099DD"/>
<g fill="#687277"><circle cx="667.8" cy="1242.6" r="3.8"/><circle cx="667.8" cy="1229.9" r="3.8"/><circle cx="673.1" cy="1225.9" r="3.8"/><circle cx="667.8" cy="1211.9" r="3.8"/><circle cx="673.1" cy="1211.9" r="3.8"/><circle cx="662.4" cy="1207.5" r="3.8"/><circle cx="678.5" cy="1207.5" r="3.8"/><circle cx="667.8" cy="1203.6" r="3.8"/><circle cx="673.1" cy="1203.6" r="3.8"/><circle cx="662.4" cy="1199.6" r="3.8"/><circle cx="678.5" cy="1199.6" r="3.8"/><circle cx="657.0" cy="1199.6" r="3.8"/><circle cx="667.8" cy="1194.7" r="3.8"/><circle cx="673.1" cy="1194.7" r="3.8"/><circle cx="662.4" cy="1190.8" r="3.8"/><circle cx="657.0" cy="1190.8" r="3.8"/><circle cx="678.5" cy="1190.8" r="3.8"/><circle cx="670.5" cy="1190.8" r="3.8"/><circle cx="667.8" cy="1186.4" r="3.8"/><circle cx="673.1" cy="1186.4" r="3.8"/><circle cx="659.6" cy="1186.4" r="3.8"/><circle cx="678.5" cy="1181.6" r="3.8"/><circle cx="670.5" cy="1181.6" r="3.8"/><circle cx="665.0" cy="1181.6" r="3.8"/><circle cx="657.0" cy="1181.6" r="3.8"/><circle cx="667.8" cy="1177.6" r="3.8"/><circle cx="673.1" cy="1177.6" r="3.8"/><circle cx="662.4" cy="1177.6" r="3.8"/><circle cx="678.5" cy="1173.2" r="3.8"/><circle cx="657.0" cy="1173.2" r="3.8"/><circle cx="667.8" cy="1169.3" r="3.8"/><circle cx="662.4" cy="1169.3" r="3.8"/><circle cx="673.1" cy="1164.4" r="3.8"/><circle cx="657.0" cy="1164.4" r="3.8"/><circle cx="678.5" cy="1164.4" r="3.8"/><circle cx="667.8" cy="1159.6" r="3.8"/><circle cx="662.4" cy="1159.6" r="3.8"/><circle cx="675.9" cy="1159.6" r="3.8"/><circle cx="657.0" cy="1159.6" r="3.8"/><circle cx="667.8" cy="1147.8" r="3.8"/><circle cx="673.1" cy="1147.8" r="3.8"/><circle cx="662.4" cy="1145.1" r="3.8"/><circle cx="678.5" cy="1145.1" r="3.8"/><circle cx="657.0" cy="1145.1" r="3.8"/><circle cx="667.8" cy="1133.7" r="3.8"/><circle cx="662.4" cy="1133.7" r="3.8"/><circle cx="667.8" cy="1124.9" r="3.8"/><circle cx="662.4" cy="1124.9" r="3.8"/><circle cx="667.8" cy="1110.9" r="3.8"/><circle cx="662.4" cy="1107.4" r="3.8"/><circle cx="673.1" cy="1107.4" r="3.8"/><circle cx="657.0" cy="1107.4" r="3.8"/><circle cx="667.8" cy="1102.1" r="3.8"/><circle cx="678.5" cy="1102.1" r="3.8"/><circle cx="673.1" cy="1096.8" r="3.8"/><circle cx="667.8" cy="1089.8" r="3.8"/><circle cx="667.8" cy="1067.9" r="3.8"/><circle cx="667.8" cy="1059.1" r="3.8"/><circle cx="673.1" cy="1054.7" r="3.8"/></g>
<g fill="#30373A"><circle cx="711.6" cy="1273.8" r="3.8"/><circle cx="711.6" cy="1265.4" r="3.8"/><circle cx="717.0" cy="1265.4" r="3.8"/><circle cx="706.2" cy="1261.0" r="3.8"/><circle cx="711.6" cy="1256.6" r="3.8"/><circle cx="717.0" cy="1256.6" r="3.8"/><circle cx="722.4" cy="1256.6" r="3.8"/><circle cx="700.9" cy="1256.6" r="3.8"/><circle cx="706.2" cy="1251.8" r="3.8"/><circle cx="714.4" cy="1251.8" r="3.8"/><circle cx="711.6" cy="1243.5" r="3.8"/><circle cx="706.2" cy="1238.6" r="3.8"/><circle cx="717.0" cy="1238.6" r="3.8"/><circle cx="700.9" cy="1238.6" r="3.8"/><circle cx="711.6" cy="1234.7" r="3.8"/><circle cx="711.6" cy="1225.9" r="3.8"/><circle cx="717.0" cy="1225.9" r="3.8"/><circle cx="706.2" cy="1221.5" r="3.8"/><circle cx="722.4" cy="1221.5" r="3.8"/><circle cx="711.6" cy="1216.7" r="3.8"/><circle cx="717.0" cy="1216.7" r="3.8"/><circle cx="706.2" cy="1211.9" r="3.8"/><circle cx="722.4" cy="1211.9" r="3.8"/><circle cx="700.9" cy="1211.9" r="3.8"/><circle cx="714.4" cy="1211.9" r="3.8"/><circle cx="711.6" cy="1194.7" r="3.8"/><circle cx="717.0" cy="1194.7" r="3.8"/><circle cx="706.2" cy="1190.8" r="3.8"/><circle cx="722.4" cy="1190.8" r="3.8"/><circle cx="711.6" cy="1182.0" r="3.8"/><circle cx="717.0" cy="1177.6" r="3.8"/><circle cx="706.2" cy="1177.6" r="3.8"/><circle cx="722.4" cy="1177.6" r="3.8"/><circle cx="711.6" cy="1168.8" r="3.8"/><circle cx="717.0" cy="1168.8" r="3.8"/><circle cx="711.6" cy="1159.6" r="3.8"/><circle cx="717.0" cy="1159.6" r="3.8"/><circle cx="706.2" cy="1159.6" r="3.8"/><circle cx="722.4" cy="1154.8" r="3.8"/><circle cx="700.9" cy="1154.8" r="3.8"/><circle cx="711.6" cy="1146.9" r="3.8"/><circle cx="706.2" cy="1142.5" r="3.8"/><circle cx="711.6" cy="1138.1" r="3.8"/><circle cx="706.2" cy="1134.6" r="3.8"/><circle cx="711.6" cy="1124.5" r="3.8"/><circle cx="706.2" cy="1124.5" r="3.8"/><circle cx="711.6" cy="1072.3" r="3.8"/></g>
<g fill="#00466A"><circle cx="755.5" cy="1238.2" r="3.8"/><circle cx="750.1" cy="1233.8" r="3.8"/><circle cx="755.5" cy="1229.4" r="3.8"/><circle cx="760.9" cy="1229.4" r="3.8"/><circle cx="755.5" cy="1221.5" r="3.8"/><circle cx="750.1" cy="1221.5" r="3.8"/><circle cx="760.9" cy="1221.5" r="3.8"/><circle cx="744.7" cy="1221.5" r="3.8"/><circle cx="766.3" cy="1221.5" r="3.8"/><circle cx="752.8" cy="1216.3" r="3.8"/><circle cx="758.2" cy="1211.9" r="3.8"/><circle cx="755.5" cy="1202.2" r="3.8"/><circle cx="760.9" cy="1202.2" r="3.8"/><circle cx="750.1" cy="1198.7" r="3.8"/><circle cx="755.5" cy="1190.8" r="3.8"/><circle cx="755.5" cy="1175.9" r="3.8"/><circle cx="760.9" cy="1175.9" r="3.8"/><circle cx="750.1" cy="1171.5" r="3.8"/><circle cx="766.3" cy="1171.5" r="3.8"/><circle cx="744.7" cy="1171.5" r="3.8"/><circle cx="758.2" cy="1171.5" r="3.8"/><circle cx="755.5" cy="1167.1" r="3.8"/><circle cx="760.9" cy="1167.1" r="3.8"/><circle cx="755.5" cy="1149.5" r="3.8"/><circle cx="760.9" cy="1149.5" r="3.8"/><circle cx="750.1" cy="1146.0" r="3.8"/><circle cx="766.3" cy="1146.0" r="3.8"/><circle cx="744.7" cy="1146.0" r="3.8"/><circle cx="758.2" cy="1142.5" r="3.8"/><circle cx="752.8" cy="1142.5" r="3.8"/><circle cx="755.5" cy="1133.7" r="3.8"/><circle cx="750.1" cy="1133.7" r="3.8"/><circle cx="760.9" cy="1133.7" r="3.8"/><circle cx="744.7" cy="1129.3" r="3.8"/><circle cx="755.5" cy="1124.9" r="3.8"/><circle cx="755.5" cy="1110.9" r="3.8"/><circle cx="760.9" cy="1110.9" r="3.8"/><circle cx="750.1" cy="1107.4" r="3.8"/><circle cx="766.3" cy="1107.4" r="3.8"/><circle cx="744.7" cy="1107.4" r="3.8"/><circle cx="755.5" cy="1102.1" r="3.8"/><circle cx="760.9" cy="1102.1" r="3.8"/><circle cx="750.1" cy="1096.8" r="3.8"/><circle cx="755.5" cy="1089.8" r="3.8"/><circle cx="755.5" cy="1050.3" r="3.8"/><circle cx="750.1" cy="1050.3" r="3.8"/></g>
<path d="M660.5,1153.1H675.0M660.5,1167.5H675.0M667.8,1153.1V1167.5" stroke="#000" stroke-width="3.6" fill="none"/>
<path d="M704.4,1191.8H718.9M704.4,1205.8H718.9M711.6,1191.8V1205.8" stroke="#000" stroke-width="3.6" fill="none"/>
<path d="M748.2,1152.9H762.8M748.2,1168.9H762.8M755.5,1152.9V1168.9" stroke="#000" stroke-width="3.6" fill="none"/>
<path d="M638.3,965.0V1319.9M623.2,1318.1H785.5M623.2,1230.3H638.3M623.2,1142.5H638.3M623.2,1054.7H638.3M623.2,966.9H638.3" stroke="#000" stroke-width="3.7" fill="none"/>
<text transform="translate(619.7,1328.0) scale(1.0,1.075)" font-size="26.7" font-weight="bold" text-anchor="end" >0</text>
<text transform="translate(619.7,1240.2) scale(1.0,1.075)" font-size="26.7" font-weight="bold" text-anchor="end" >10</text>
<text transform="translate(619.7,1152.4) scale(1.0,1.075)" font-size="26.7" font-weight="bold" text-anchor="end" >20</text>
<text transform="translate(619.7,1064.6) scale(1.0,1.075)" font-size="26.7" font-weight="bold" text-anchor="end" >30</text>
<text transform="translate(619.7,976.8) scale(1.0,1.075)" font-size="26.7" font-weight="bold" text-anchor="end" >40</text>
<text transform="translate(573.0,1141.2) rotate(-90) scale(1,1.04)" font-size="29.3" font-weight="bold" text-anchor="middle">Day bout number</text>
<path d="M711.4,954.9 V935.2 H755.4 V1029.2" fill="none" stroke="#000" stroke-width="3.6" stroke-linejoin="round"/>
<text x="735.2" y="926.7" font-size="32" class="st" text-anchor="middle">***</text>
<path d="M667.4,1033.3 V1008.6 H711.4 V1051.2" fill="none" stroke="#000" stroke-width="3.6" stroke-linejoin="round"/>
<text x="692.3" y="1000.1" font-size="32" class="st" text-anchor="middle">***</text>
<rect x="116.8" y="1572.0" width="29.5" height="231.3" fill="#9FB0B9"/>
<rect x="160.8" y="1574.7" width="29.5" height="228.6" fill="#5F686E"/>
<rect x="204.8" y="1554.5" width="29.5" height="248.8" fill="#0099DD"/>
<g fill="#687277"><circle cx="131.5" cy="1700.1" r="3.8"/><circle cx="131.5" cy="1690.0" r="3.8"/><circle cx="136.9" cy="1688.3" r="3.8"/><circle cx="131.5" cy="1636.5" r="3.8"/><circle cx="134.2" cy="1629.9" r="3.8"/><circle cx="128.8" cy="1627.7" r="3.8"/><circle cx="131.5" cy="1610.1" r="3.8"/><circle cx="128.8" cy="1603.6" r="3.8"/><circle cx="134.2" cy="1601.4" r="3.8"/><circle cx="131.5" cy="1592.6" r="3.8"/><circle cx="136.9" cy="1591.4" r="3.8"/><circle cx="126.1" cy="1586.4" r="3.8"/><circle cx="131.5" cy="1582.9" r="3.8"/><circle cx="136.9" cy="1581.0" r="3.8"/><circle cx="123.4" cy="1580.0" r="3.8"/><circle cx="142.3" cy="1578.5" r="3.8"/><circle cx="128.8" cy="1576.5" r="3.8"/><circle cx="134.2" cy="1574.6" r="3.8"/><circle cx="139.6" cy="1571.0" r="3.8"/><circle cx="126.1" cy="1569.9" r="3.8"/><circle cx="120.7" cy="1569.2" r="3.8"/><circle cx="131.5" cy="1568.6" r="3.8"/><circle cx="136.9" cy="1567.4" r="3.8"/><circle cx="142.3" cy="1565.1" r="3.8"/><circle cx="123.4" cy="1563.6" r="3.8"/><circle cx="128.8" cy="1563.4" r="3.8"/><circle cx="134.2" cy="1559.9" r="3.8"/><circle cx="139.6" cy="1558.4" r="3.8"/><circle cx="126.1" cy="1556.9" r="3.8"/><circle cx="120.7" cy="1555.4" r="3.8"/><circle cx="131.5" cy="1553.5" r="3.8"/><circle cx="136.9" cy="1550.4" r="3.8"/><circle cx="142.3" cy="1550.2" r="3.8"/><circle cx="126.1" cy="1547.6" r="3.8"/><circle cx="131.5" cy="1544.8" r="3.8"/><circle cx="120.7" cy="1543.9" r="3.8"/><circle cx="136.9" cy="1540.0" r="3.8"/><circle cx="131.5" cy="1534.2" r="3.8"/><circle cx="136.9" cy="1530.2" r="3.8"/><circle cx="131.5" cy="1522.3" r="3.8"/><circle cx="131.5" cy="1513.6" r="3.8"/><circle cx="126.1" cy="1511.4" r="3.8"/></g>
<g fill="#30373A"><circle cx="175.6" cy="1713.3" r="3.8"/><circle cx="175.6" cy="1656.2" r="3.8"/><circle cx="181.0" cy="1651.8" r="3.8"/><circle cx="175.6" cy="1645.3" r="3.8"/><circle cx="181.0" cy="1643.1" r="3.8"/><circle cx="175.6" cy="1627.7" r="3.8"/><circle cx="181.0" cy="1623.3" r="3.8"/><circle cx="175.6" cy="1614.5" r="3.8"/><circle cx="175.6" cy="1605.8" r="3.8"/><circle cx="175.6" cy="1597.0" r="3.8"/><circle cx="181.0" cy="1592.1" r="3.8"/><circle cx="175.6" cy="1587.8" r="3.8"/><circle cx="170.2" cy="1584.7" r="3.8"/><circle cx="181.0" cy="1582.7" r="3.8"/><circle cx="186.4" cy="1582.1" r="3.8"/><circle cx="175.6" cy="1578.3" r="3.8"/><circle cx="170.2" cy="1575.6" r="3.8"/><circle cx="181.0" cy="1575.2" r="3.8"/><circle cx="186.4" cy="1572.7" r="3.8"/><circle cx="164.8" cy="1572.3" r="3.8"/><circle cx="175.6" cy="1570.5" r="3.8"/><circle cx="170.2" cy="1569.1" r="3.8"/><circle cx="181.0" cy="1569.0" r="3.8"/><circle cx="186.4" cy="1568.9" r="3.8"/><circle cx="164.8" cy="1565.8" r="3.8"/><circle cx="175.6" cy="1565.1" r="3.8"/><circle cx="183.7" cy="1562.5" r="3.8"/><circle cx="170.2" cy="1561.9" r="3.8"/><circle cx="178.2" cy="1560.3" r="3.8"/><circle cx="164.8" cy="1559.4" r="3.8"/><circle cx="186.4" cy="1559.1" r="3.8"/><circle cx="172.9" cy="1558.3" r="3.8"/><circle cx="181.0" cy="1556.6" r="3.8"/><circle cx="167.5" cy="1552.4" r="3.8"/><circle cx="175.6" cy="1551.0" r="3.8"/><circle cx="183.7" cy="1549.5" r="3.8"/><circle cx="170.2" cy="1549.4" r="3.8"/><circle cx="164.8" cy="1546.2" r="3.8"/><circle cx="178.2" cy="1544.7" r="3.8"/><circle cx="186.4" cy="1543.8" r="3.8"/><circle cx="172.9" cy="1538.6" r="3.8"/><circle cx="178.2" cy="1534.0" r="3.8"/><circle cx="172.9" cy="1530.2" r="3.8"/></g>
<g fill="#00466A"><circle cx="219.6" cy="1666.3" r="3.8"/><circle cx="219.6" cy="1640.9" r="3.8"/><circle cx="219.6" cy="1629.9" r="3.8"/><circle cx="219.6" cy="1592.6" r="3.8"/><circle cx="225.0" cy="1588.2" r="3.8"/><circle cx="219.6" cy="1583.8" r="3.8"/><circle cx="225.0" cy="1579.2" r="3.8"/><circle cx="219.6" cy="1575.0" r="3.8"/><circle cx="214.2" cy="1574.0" r="3.8"/><circle cx="225.0" cy="1571.1" r="3.8"/><circle cx="230.4" cy="1568.5" r="3.8"/><circle cx="219.6" cy="1567.0" r="3.8"/><circle cx="225.0" cy="1563.5" r="3.8"/><circle cx="214.2" cy="1562.8" r="3.8"/><circle cx="208.8" cy="1562.2" r="3.8"/><circle cx="230.4" cy="1560.1" r="3.8"/><circle cx="219.6" cy="1559.9" r="3.8"/><circle cx="211.5" cy="1557.8" r="3.8"/><circle cx="225.0" cy="1556.6" r="3.8"/><circle cx="216.9" cy="1555.4" r="3.8"/><circle cx="230.4" cy="1555.0" r="3.8"/><circle cx="208.8" cy="1554.4" r="3.8"/><circle cx="222.3" cy="1552.5" r="3.8"/><circle cx="214.2" cy="1550.0" r="3.8"/><circle cx="227.7" cy="1549.9" r="3.8"/><circle cx="208.8" cy="1548.4" r="3.8"/><circle cx="219.6" cy="1547.3" r="3.8"/><circle cx="225.0" cy="1545.7" r="3.8"/><circle cx="230.4" cy="1544.5" r="3.8"/><circle cx="214.2" cy="1542.9" r="3.8"/><circle cx="208.8" cy="1542.1" r="3.8"/><circle cx="219.6" cy="1540.8" r="3.8"/><circle cx="225.0" cy="1538.8" r="3.8"/><circle cx="230.4" cy="1537.2" r="3.8"/><circle cx="211.5" cy="1536.7" r="3.8"/><circle cx="216.9" cy="1534.8" r="3.8"/><circle cx="222.3" cy="1530.8" r="3.8"/><circle cx="214.2" cy="1528.3" r="3.8"/><circle cx="227.7" cy="1528.1" r="3.8"/><circle cx="219.6" cy="1522.5" r="3.8"/><circle cx="222.3" cy="1515.8" r="3.8"/></g>
<path d="M124.2,1566.4H138.8M124.2,1577.6H138.8M131.5,1566.4V1577.6" stroke="#000" stroke-width="3.6" fill="none"/>
<path d="M168.2,1569.1H182.9M168.2,1580.3H182.9M175.6,1569.1V1580.3" stroke="#000" stroke-width="3.6" fill="none"/>
<path d="M212.3,1549.5H226.9M212.3,1559.5H226.9M219.6,1549.5V1559.5" stroke="#000" stroke-width="3.6" fill="none"/>
<path d="M102.1,1450.1V1805.1M87.3,1803.3H250.0M87.3,1715.5H102.1M87.3,1627.6H102.1M87.3,1539.8H102.1M87.3,1451.9H102.1" stroke="#000" stroke-width="3.7" fill="none"/>
<text transform="translate(83.8,1813.2) scale(1.0,1.075)" font-size="26.7" font-weight="bold" text-anchor="end" >0</text>
<text transform="translate(83.8,1725.4) scale(1.0,1.075)" font-size="26.7" font-weight="bold" text-anchor="end" >200</text>
<text transform="translate(83.8,1637.5) scale(1.0,1.075)" font-size="26.7" font-weight="bold" text-anchor="end" >400</text>
<text transform="translate(83.8,1549.7) scale(1.0,1.075)" font-size="26.7" font-weight="bold" text-anchor="end" >600</text>
<text transform="translate(83.8,1461.8) scale(1.0,1.075)" font-size="26.7" font-weight="bold" text-anchor="end" >800</text>
<text transform="translate(22.1,1627.1) rotate(-90) scale(1,1.04)" font-size="29.3" font-weight="bold" text-anchor="middle">Night sleep (min)</text>
<path d="M175.3,1510.2 V1469.3 H219.6 V1495.4" fill="none" stroke="#000" stroke-width="3.6" stroke-linejoin="round"/>
<text x="199.4" y="1460.8" font-size="32" class="st" text-anchor="middle">*</text>
<rect x="377.4" y="1666.6" width="29.5" height="136.7" fill="#9FB0B9"/>
<rect x="421.4" y="1668.0" width="29.5" height="135.3" fill="#5F686E"/>
<rect x="465.3" y="1652.7" width="29.5" height="150.6" fill="#0099DD"/>
<g fill="#687277"><circle cx="392.1" cy="1729.5" r="3.8"/><circle cx="392.1" cy="1715.4" r="3.8"/><circle cx="392.1" cy="1706.3" r="3.8"/><circle cx="386.8" cy="1703.6" r="3.8"/><circle cx="392.1" cy="1696.8" r="3.8"/><circle cx="397.5" cy="1696.4" r="3.8"/><circle cx="386.8" cy="1690.9" r="3.8"/><circle cx="394.8" cy="1689.8" r="3.8"/><circle cx="400.2" cy="1689.1" r="3.8"/><circle cx="381.3" cy="1687.8" r="3.8"/><circle cx="389.4" cy="1686.3" r="3.8"/><circle cx="397.5" cy="1684.1" r="3.8"/><circle cx="402.9" cy="1682.0" r="3.8"/><circle cx="392.1" cy="1679.6" r="3.8"/><circle cx="386.8" cy="1679.0" r="3.8"/><circle cx="381.3" cy="1677.8" r="3.8"/><circle cx="397.5" cy="1675.9" r="3.8"/><circle cx="402.9" cy="1674.7" r="3.8"/><circle cx="389.4" cy="1672.8" r="3.8"/><circle cx="384.0" cy="1672.7" r="3.8"/><circle cx="394.8" cy="1669.5" r="3.8"/><circle cx="400.2" cy="1669.0" r="3.8"/><circle cx="386.8" cy="1669.0" r="3.8"/><circle cx="381.3" cy="1667.3" r="3.8"/><circle cx="392.1" cy="1665.8" r="3.8"/><circle cx="397.5" cy="1664.6" r="3.8"/><circle cx="402.9" cy="1662.4" r="3.8"/><circle cx="386.8" cy="1661.5" r="3.8"/><circle cx="381.3" cy="1661.5" r="3.8"/><circle cx="392.1" cy="1657.2" r="3.8"/><circle cx="397.5" cy="1655.7" r="3.8"/><circle cx="386.8" cy="1653.6" r="3.8"/><circle cx="402.9" cy="1650.2" r="3.8"/><circle cx="392.1" cy="1648.0" r="3.8"/><circle cx="397.5" cy="1644.2" r="3.8"/><circle cx="392.1" cy="1640.2" r="3.8"/><circle cx="392.1" cy="1631.1" r="3.8"/><circle cx="386.8" cy="1627.5" r="3.8"/><circle cx="394.8" cy="1624.0" r="3.8"/><circle cx="389.4" cy="1620.5" r="3.8"/><circle cx="397.5" cy="1617.0" r="3.8"/><circle cx="392.1" cy="1532.6" r="3.8"/></g>
<g fill="#30373A"><circle cx="436.1" cy="1698.9" r="3.8"/><circle cx="430.7" cy="1694.2" r="3.8"/><circle cx="438.8" cy="1691.5" r="3.8"/><circle cx="444.2" cy="1688.1" r="3.8"/><circle cx="433.4" cy="1687.5" r="3.8"/><circle cx="428.0" cy="1684.5" r="3.8"/><circle cx="438.8" cy="1683.9" r="3.8"/><circle cx="444.2" cy="1680.5" r="3.8"/><circle cx="433.4" cy="1680.2" r="3.8"/><circle cx="425.3" cy="1679.9" r="3.8"/><circle cx="438.8" cy="1677.3" r="3.8"/><circle cx="446.9" cy="1676.9" r="3.8"/><circle cx="430.7" cy="1676.5" r="3.8"/><circle cx="425.3" cy="1674.4" r="3.8"/><circle cx="436.1" cy="1674.4" r="3.8"/><circle cx="441.5" cy="1672.5" r="3.8"/><circle cx="446.9" cy="1672.4" r="3.8"/><circle cx="430.7" cy="1671.6" r="3.8"/><circle cx="438.8" cy="1670.8" r="3.8"/><circle cx="444.2" cy="1670.7" r="3.8"/><circle cx="425.3" cy="1668.0" r="3.8"/><circle cx="433.4" cy="1668.0" r="3.8"/><circle cx="441.5" cy="1667.5" r="3.8"/><circle cx="446.9" cy="1665.8" r="3.8"/><circle cx="428.0" cy="1665.8" r="3.8"/><circle cx="436.1" cy="1665.7" r="3.8"/><circle cx="444.2" cy="1663.8" r="3.8"/><circle cx="430.7" cy="1663.6" r="3.8"/><circle cx="425.3" cy="1662.8" r="3.8"/><circle cx="438.8" cy="1660.6" r="3.8"/><circle cx="446.9" cy="1660.4" r="3.8"/><circle cx="433.4" cy="1659.3" r="3.8"/><circle cx="428.0" cy="1658.9" r="3.8"/><circle cx="441.5" cy="1655.1" r="3.8"/><circle cx="436.1" cy="1654.2" r="3.8"/><circle cx="446.9" cy="1653.0" r="3.8"/><circle cx="430.7" cy="1652.4" r="3.8"/><circle cx="425.3" cy="1648.3" r="3.8"/><circle cx="436.1" cy="1646.2" r="3.8"/><circle cx="430.7" cy="1643.7" r="3.8"/><circle cx="436.1" cy="1638.1" r="3.8"/><circle cx="433.4" cy="1631.1" r="3.8"/><circle cx="436.1" cy="1624.0" r="3.8"/></g>
<g fill="#00466A"><circle cx="480.1" cy="1701.4" r="3.8"/><circle cx="480.1" cy="1689.4" r="3.8"/><circle cx="485.4" cy="1687.0" r="3.8"/><circle cx="477.4" cy="1682.9" r="3.8"/><circle cx="471.9" cy="1681.6" r="3.8"/><circle cx="482.8" cy="1676.6" r="3.8"/><circle cx="488.2" cy="1676.1" r="3.8"/><circle cx="477.4" cy="1672.8" r="3.8"/><circle cx="471.9" cy="1671.8" r="3.8"/><circle cx="485.4" cy="1671.6" r="3.8"/><circle cx="490.9" cy="1666.4" r="3.8"/><circle cx="480.1" cy="1666.1" r="3.8"/><circle cx="474.7" cy="1665.3" r="3.8"/><circle cx="469.2" cy="1664.8" r="3.8"/><circle cx="485.4" cy="1661.8" r="3.8"/><circle cx="477.4" cy="1660.4" r="3.8"/><circle cx="490.9" cy="1659.4" r="3.8"/><circle cx="471.9" cy="1657.3" r="3.8"/><circle cx="482.8" cy="1656.9" r="3.8"/><circle cx="488.2" cy="1653.3" r="3.8"/><circle cx="477.4" cy="1652.7" r="3.8"/><circle cx="469.2" cy="1652.1" r="3.8"/><circle cx="482.8" cy="1651.2" r="3.8"/><circle cx="490.9" cy="1650.0" r="3.8"/><circle cx="474.7" cy="1649.9" r="3.8"/><circle cx="480.1" cy="1648.1" r="3.8"/><circle cx="485.4" cy="1646.4" r="3.8"/><circle cx="469.2" cy="1644.9" r="3.8"/><circle cx="490.9" cy="1644.4" r="3.8"/><circle cx="477.4" cy="1641.6" r="3.8"/><circle cx="482.8" cy="1640.8" r="3.8"/><circle cx="471.9" cy="1635.8" r="3.8"/><circle cx="488.2" cy="1635.6" r="3.8"/><circle cx="480.1" cy="1635.2" r="3.8"/><circle cx="474.7" cy="1631.0" r="3.8"/><circle cx="469.2" cy="1629.9" r="3.8"/><circle cx="480.1" cy="1624.0" r="3.8"/><circle cx="474.7" cy="1621.2" r="3.8"/><circle cx="485.4" cy="1618.7" r="3.8"/><circle cx="480.1" cy="1610.0" r="3.8"/><circle cx="485.4" cy="1606.5" r="3.8"/><circle cx="480.1" cy="1598.0" r="3.8"/></g>
<path d="M384.8,1662.0H399.4M384.8,1671.2H399.4M392.1,1662.0V1671.2" stroke="#000" stroke-width="3.6" fill="none"/>
<path d="M428.8,1664.4H443.4M428.8,1671.6H443.4M436.1,1664.4V1671.6" stroke="#000" stroke-width="3.6" fill="none"/>
<path d="M472.8,1648.5H487.4M472.8,1656.9H487.4M480.1,1648.5V1656.9" stroke="#000" stroke-width="3.6" fill="none"/>
<path d="M363.1,1450.0V1805.1M348.0,1803.3H510.1M348.0,1733.0H363.1M348.0,1662.7H363.1M348.0,1592.4H363.1M348.0,1522.1H363.1M348.0,1451.8H363.1" stroke="#000" stroke-width="3.7" fill="none"/>
<text transform="translate(344.5,1813.2) scale(1.0,1.075)" font-size="26.7" font-weight="bold" text-anchor="end" >0</text>
<text transform="translate(344.5,1742.9) scale(1.0,1.075)" font-size="26.7" font-weight="bold" text-anchor="end" >1</text>
<text transform="translate(344.5,1672.6) scale(1.0,1.075)" font-size="26.7" font-weight="bold" text-anchor="end" >2</text>
<text transform="translate(344.5,1602.3) scale(1.0,1.075)" font-size="26.7" font-weight="bold" text-anchor="end" >3</text>
<text transform="translate(344.5,1532.0) scale(1.0,1.075)" font-size="26.7" font-weight="bold" text-anchor="end" >4</text>
<text transform="translate(344.5,1461.7) scale(1.0,1.075)" font-size="26.7" font-weight="bold" text-anchor="end" >5</text>
<text transform="translate(312.4,1627.0) rotate(-90) scale(1,1.04)" font-size="29.3" font-weight="bold" text-anchor="middle">Night activity index</text>
<path d="M392.1,1511.5 V1416.9 H480.1 V1437.6" fill="none" stroke="#000" stroke-width="3.6" stroke-linejoin="round"/>
<text x="438.4" y="1408.4" font-size="32" class="st" text-anchor="middle">*</text>
<path d="M436.0,1604.3 V1490.8 H480.1 V1577.4" fill="none" stroke="#000" stroke-width="3.6" stroke-linejoin="round"/>
<text x="460.5" y="1482.3" font-size="32" class="st" text-anchor="middle">*</text>
<rect x="653.0" y="1641.9" width="29.5" height="161.4" fill="#9FB0B9"/>
<rect x="696.9" y="1633.8" width="29.5" height="169.5" fill="#5F686E"/>
<rect x="740.8" y="1607.0" width="29.5" height="196.3" fill="#0099DD"/>
<g fill="#687277"><circle cx="667.8" cy="1750.6" r="3.8"/><circle cx="662.4" cy="1744.7" r="3.8"/><circle cx="667.8" cy="1738.9" r="3.8"/><circle cx="667.8" cy="1721.3" r="3.8"/><circle cx="673.1" cy="1715.4" r="3.8"/><circle cx="667.8" cy="1709.6" r="3.8"/><circle cx="662.4" cy="1709.6" r="3.8"/><circle cx="667.8" cy="1697.9" r="3.8"/><circle cx="673.1" cy="1692.0" r="3.8"/><circle cx="662.4" cy="1692.0" r="3.8"/><circle cx="667.8" cy="1686.1" r="3.8"/><circle cx="662.4" cy="1680.3" r="3.8"/><circle cx="673.1" cy="1680.3" r="3.8"/><circle cx="667.8" cy="1674.4" r="3.8"/><circle cx="673.1" cy="1668.6" r="3.8"/><circle cx="662.4" cy="1668.6" r="3.8"/><circle cx="667.8" cy="1662.7" r="3.8"/><circle cx="662.4" cy="1656.9" r="3.8"/><circle cx="673.1" cy="1656.9" r="3.8"/><circle cx="657.0" cy="1656.9" r="3.8"/><circle cx="678.5" cy="1656.9" r="3.8"/><circle cx="667.8" cy="1645.1" r="3.8"/><circle cx="673.1" cy="1639.3" r="3.8"/><circle cx="662.4" cy="1639.3" r="3.8"/><circle cx="678.5" cy="1639.3" r="3.8"/><circle cx="667.8" cy="1633.4" r="3.8"/><circle cx="673.1" cy="1627.6" r="3.8"/><circle cx="662.4" cy="1627.6" r="3.8"/><circle cx="667.8" cy="1615.9" r="3.8"/><circle cx="662.4" cy="1615.9" r="3.8"/><circle cx="673.1" cy="1615.9" r="3.8"/><circle cx="657.0" cy="1610.0" r="3.8"/><circle cx="678.5" cy="1610.0" r="3.8"/><circle cx="667.8" cy="1604.1" r="3.8"/><circle cx="673.1" cy="1598.3" r="3.8"/><circle cx="662.4" cy="1598.3" r="3.8"/><circle cx="667.8" cy="1592.4" r="3.8"/><circle cx="662.4" cy="1586.6" r="3.8"/><circle cx="667.8" cy="1580.7" r="3.8"/><circle cx="662.4" cy="1574.9" r="3.8"/><circle cx="667.8" cy="1563.1" r="3.8"/><circle cx="667.8" cy="1545.6" r="3.8"/><circle cx="673.1" cy="1539.7" r="3.8"/><circle cx="662.4" cy="1539.7" r="3.8"/></g>
<g fill="#30373A"><circle cx="711.6" cy="1733.0" r="3.8"/><circle cx="706.2" cy="1733.0" r="3.8"/><circle cx="711.6" cy="1715.4" r="3.8"/><circle cx="711.6" cy="1703.7" r="3.8"/><circle cx="717.0" cy="1697.9" r="3.8"/><circle cx="711.6" cy="1692.0" r="3.8"/><circle cx="717.0" cy="1686.1" r="3.8"/><circle cx="706.2" cy="1686.1" r="3.8"/><circle cx="722.4" cy="1686.1" r="3.8"/><circle cx="711.6" cy="1674.4" r="3.8"/><circle cx="717.0" cy="1668.6" r="3.8"/><circle cx="706.2" cy="1668.6" r="3.8"/><circle cx="711.6" cy="1662.7" r="3.8"/><circle cx="706.2" cy="1656.9" r="3.8"/><circle cx="717.0" cy="1656.9" r="3.8"/><circle cx="700.9" cy="1656.9" r="3.8"/><circle cx="711.6" cy="1651.0" r="3.8"/><circle cx="722.4" cy="1651.0" r="3.8"/><circle cx="711.6" cy="1639.3" r="3.8"/><circle cx="706.2" cy="1639.3" r="3.8"/><circle cx="717.0" cy="1639.3" r="3.8"/><circle cx="700.9" cy="1633.4" r="3.8"/><circle cx="722.4" cy="1633.4" r="3.8"/><circle cx="711.6" cy="1627.6" r="3.8"/><circle cx="717.0" cy="1627.6" r="3.8"/><circle cx="706.2" cy="1621.7" r="3.8"/><circle cx="722.4" cy="1621.7" r="3.8"/><circle cx="711.6" cy="1615.9" r="3.8"/><circle cx="711.6" cy="1604.1" r="3.8"/><circle cx="706.2" cy="1604.1" r="3.8"/><circle cx="717.0" cy="1604.1" r="3.8"/><circle cx="700.9" cy="1598.3" r="3.8"/><circle cx="722.4" cy="1598.3" r="3.8"/><circle cx="711.6" cy="1586.6" r="3.8"/><circle cx="717.0" cy="1586.6" r="3.8"/><circle cx="711.6" cy="1574.9" r="3.8"/><circle cx="717.0" cy="1574.9" r="3.8"/><circle cx="711.6" cy="1563.1" r="3.8"/><circle cx="717.0" cy="1563.1" r="3.8"/><circle cx="706.2" cy="1563.1" r="3.8"/><circle cx="711.6" cy="1545.6" r="3.8"/><circle cx="706.2" cy="1539.7" r="3.8"/><circle cx="711.6" cy="1469.4" r="3.8"/></g>
<g fill="#00466A"><circle cx="755.5" cy="1727.2" r="3.8"/><circle cx="755.5" cy="1703.7" r="3.8"/><circle cx="755.5" cy="1692.0" r="3.8"/><circle cx="750.1" cy="1692.0" r="3.8"/><circle cx="760.9" cy="1686.1" r="3.8"/><circle cx="755.5" cy="1680.3" r="3.8"/><circle cx="755.5" cy="1668.6" r="3.8"/><circle cx="755.5" cy="1656.9" r="3.8"/><circle cx="760.9" cy="1656.9" r="3.8"/><circle cx="750.1" cy="1651.0" r="3.8"/><circle cx="755.5" cy="1645.1" r="3.8"/><circle cx="760.9" cy="1645.1" r="3.8"/><circle cx="750.1" cy="1639.3" r="3.8"/><circle cx="744.7" cy="1639.3" r="3.8"/><circle cx="755.5" cy="1633.4" r="3.8"/><circle cx="750.1" cy="1627.6" r="3.8"/><circle cx="760.9" cy="1627.6" r="3.8"/><circle cx="744.7" cy="1627.6" r="3.8"/><circle cx="755.5" cy="1621.7" r="3.8"/><circle cx="766.3" cy="1621.7" r="3.8"/><circle cx="760.9" cy="1615.9" r="3.8"/><circle cx="755.5" cy="1604.1" r="3.8"/><circle cx="760.9" cy="1604.1" r="3.8"/><circle cx="750.1" cy="1604.1" r="3.8"/><circle cx="766.3" cy="1604.1" r="3.8"/><circle cx="744.7" cy="1604.1" r="3.8"/><circle cx="758.2" cy="1598.3" r="3.8"/><circle cx="752.8" cy="1598.3" r="3.8"/><circle cx="763.6" cy="1592.4" r="3.8"/><circle cx="755.5" cy="1586.6" r="3.8"/><circle cx="760.9" cy="1580.7" r="3.8"/><circle cx="755.5" cy="1574.9" r="3.8"/><circle cx="750.1" cy="1574.9" r="3.8"/><circle cx="760.9" cy="1569.0" r="3.8"/><circle cx="766.3" cy="1569.0" r="3.8"/><circle cx="744.7" cy="1569.0" r="3.8"/><circle cx="755.5" cy="1557.3" r="3.8"/><circle cx="750.1" cy="1551.4" r="3.8"/><circle cx="755.5" cy="1539.7" r="3.8"/><circle cx="750.1" cy="1539.7" r="3.8"/><circle cx="760.9" cy="1539.7" r="3.8"/><circle cx="744.7" cy="1539.7" r="3.8"/><circle cx="755.5" cy="1522.1" r="3.8"/><circle cx="755.5" cy="1510.4" r="3.8"/><circle cx="760.9" cy="1504.6" r="3.8"/><circle cx="755.5" cy="1487.0" r="3.8"/></g>
<path d="M660.5,1632.9H675.0M660.5,1650.9H675.0M667.8,1632.9V1650.9" stroke="#000" stroke-width="3.6" fill="none"/>
<path d="M704.4,1625.4H718.9M704.4,1642.2H718.9M711.6,1625.4V1642.2" stroke="#000" stroke-width="3.6" fill="none"/>
<path d="M748.2,1598.4H762.8M748.2,1615.6H762.8M755.5,1598.4V1615.6" stroke="#000" stroke-width="3.6" fill="none"/>
<path d="M638.3,1450.0V1805.1M623.2,1803.3H786.0M623.2,1686.1H638.3M623.2,1569.0H638.3M623.2,1451.8H638.3" stroke="#000" stroke-width="3.7" fill="none"/>
<text transform="translate(619.7,1813.2) scale(1.0,1.075)" font-size="26.7" font-weight="bold" text-anchor="end" >0</text>
<text transform="translate(619.7,1696.0) scale(1.0,1.075)" font-size="26.7" font-weight="bold" text-anchor="end" >10</text>
<text transform="translate(619.7,1578.9) scale(1.0,1.075)" font-size="26.7" font-weight="bold" text-anchor="end" >20</text>
<text transform="translate(619.7,1461.8) scale(1.0,1.075)" font-size="26.7" font-weight="bold" text-anchor="end" >30</text>
<text transform="translate(573.8,1626.6) rotate(-90) scale(1,1.04)" font-size="29.3" font-weight="bold" text-anchor="middle">Night bout number</text>
<path d="M667.3,1518.2 V1427.6 H755.4 V1465.8" fill="none" stroke="#000" stroke-width="3.6" stroke-linejoin="round"/>
<text x="713.8" y="1419.1" font-size="32" class="st" text-anchor="middle">*</text>
<path d="M928.8,1008.4V1252.9M914.0,1238.2H1326.5M914.0,1010.25H928.8M914.0,1124.225H928.8M928.8,1238.2V1252.9M1060.6,1238.2V1252.9M1192.6,1238.2V1252.9M1324.7,1238.2V1252.9" stroke="#000" stroke-width="3.7" fill="none"/>
<path d="M928.8,1148.2L942.0,1059.3L955.2,1036.2L968.4,1028.5L981.6,1024.2L994.8,1021.4L1008.0,1019.4L1021.2,1017.8L1034.4,1016.4L1047.6,1015.0L1060.8,1013.9L1087.2,1012.8L1126.8,1011.6L1192.7,1010.5L1299.0,1010.2" stroke="#0E96DA" stroke-width="4.9" fill="none" stroke-linejoin="round"/>
<path d="M928.8,1152.3L942.0,1062.7L955.2,1039.0L968.4,1029.2L981.6,1023.2L994.8,1020.3L1008.0,1018.0L1021.2,1016.6L1034.4,1015.0L1047.6,1013.7L1060.8,1012.8L1087.2,1011.8L1126.8,1010.9L1192.7,1010.2L1299.0,1010.2" stroke="#5F676C" stroke-width="4.9" fill="none" stroke-linejoin="round"/>
<path d="M928.8,1113.5L942.0,1036.7L955.2,1018.0L968.4,1013.4L981.6,1012.1L994.8,1011.2L1021.2,1010.5L1060.8,1010.2L1299.0,1010.2" stroke="#9AA9B1" stroke-width="4.9" fill="none" stroke-linejoin="round"/>
<text transform="translate(910.2,1248.1) scale(1.0,1.075)" font-size="26.7" font-weight="bold" text-anchor="end" >0</text>
<text transform="translate(910.2,1134.1) scale(1.0,1.075)" font-size="26.7" font-weight="bold" text-anchor="end" >50</text>
<text transform="translate(910.2,1020.1) scale(1.0,1.075)" font-size="26.7" font-weight="bold" text-anchor="end" >100</text>
<text transform="translate(928.5,1283.7) scale(1.0,1.075)" font-size="26.7" font-weight="bold" text-anchor="middle" >0</text>
<text transform="translate(1060.3,1283.7) scale(1.0,1.075)" font-size="26.7" font-weight="bold" text-anchor="middle" >200</text>
<text transform="translate(1192.3,1283.7) scale(1.0,1.075)" font-size="26.7" font-weight="bold" text-anchor="middle" >400</text>
<text transform="translate(1324.4,1283.7) scale(1.0,1.075)" font-size="26.7" font-weight="bold" text-anchor="middle" >600</text>
<text transform="translate(1127.0,1326.8) scale(1.0,1.04)" font-size="29.15" font-weight="bold" text-anchor="middle" >Day bout length (min)</text>
<text transform="translate(849.8,1124.5) rotate(-90) scale(1,1.04)" font-size="29.2" font-weight="bold" text-anchor="middle">Cumulative frequency (%)</text>
<path d="M928.8,1493.6V1738.1M914.0,1723.4H1326.5M914.0,1495.4H928.8M914.0,1609.4H928.8M928.8,1723.4V1738.1M1042,1723.4V1738.1M1155.1,1723.4V1738.1M1268.3,1723.4V1738.1" stroke="#000" stroke-width="3.7" fill="none"/>
<path d="M928.8,1648.2L940.1,1571.1L951.4,1542.0L962.8,1525.8L974.1,1516.9L985.4,1511.5L996.7,1506.3L1008.0,1502.8L1019.3,1500.9L1030.6,1499.7L1042.0,1498.7L1064.6,1497.7L1087.2,1496.8L1121.2,1495.9L1166.4,1495.4L1279.6,1495.4" stroke="#0E96DA" stroke-width="4.9" fill="none" stroke-linejoin="round"/>
<path d="M928.8,1651.7L940.1,1571.9L951.4,1543.2L962.8,1527.1L974.1,1518.2L985.4,1512.6L996.7,1507.2L1008.0,1503.3L1019.3,1501.2L1030.6,1499.8L1042.0,1498.8L1064.6,1497.7L1087.2,1496.8L1121.2,1495.9L1166.4,1495.4L1279.6,1495.4" stroke="#5F676C" stroke-width="4.9" fill="none" stroke-linejoin="round"/>
<path d="M928.8,1652.5L940.1,1573.1L951.4,1544.9L962.8,1529.1L974.1,1520.3L985.4,1514.3L996.7,1508.4L1008.0,1504.1L1019.3,1501.6L1030.6,1500.0L1042.0,1498.8L1064.6,1497.7L1087.2,1496.8L1121.2,1495.9L1166.4,1495.4L1279.6,1495.4" stroke="#9AA9B1" stroke-width="4.9" fill="none" stroke-linejoin="round"/>
<text transform="translate(910.2,1733.3) scale(1.0,1.075)" font-size="26.7" font-weight="bold" text-anchor="end" >0</text>
<text transform="translate(910.2,1619.3) scale(1.0,1.075)" font-size="26.7" font-weight="bold" text-anchor="end" >50</text>
<text transform="translate(910.2,1505.3) scale(1.0,1.075)" font-size="26.7" font-weight="bold" text-anchor="end" >100</text>
<text transform="translate(928.5,1768.9) scale(1.0,1.075)" font-size="26.7" font-weight="bold" text-anchor="middle" >0</text>
<text transform="translate(1041.7,1768.9) scale(1.0,1.075)" font-size="26.7" font-weight="bold" text-anchor="middle" >200</text>
<text transform="translate(1154.8,1768.9) scale(1.0,1.075)" font-size="26.7" font-weight="bold" text-anchor="middle" >400</text>
<text transform="translate(1268.0,1768.9) scale(1.0,1.075)" font-size="26.7" font-weight="bold" text-anchor="middle" >600</text>
<text transform="translate(1127.2,1812.0) scale(1.0,1.04)" font-size="29.15" font-weight="bold" text-anchor="middle" >Night bout length (min)</text>
<text transform="translate(849.8,1609.5) rotate(-90) scale(1,1.04)" font-size="29.2" font-weight="bold" text-anchor="middle">Cumulative frequency (%)</text>
</svg></body></html>
